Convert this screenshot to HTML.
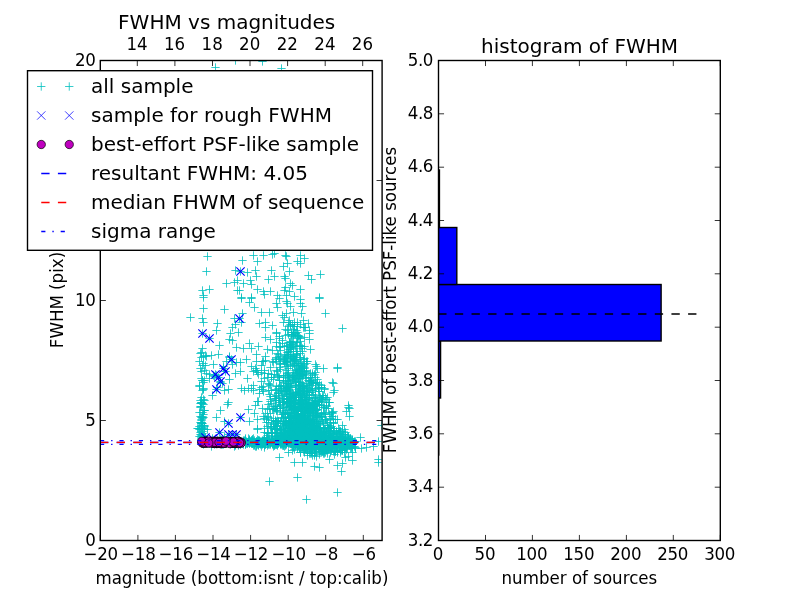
<!DOCTYPE html>
<html><head><meta charset="utf-8"><title>FWHM vs magnitudes</title>
<style>html,body{margin:0;padding:0;background:#fff;overflow:hidden}svg{display:block;will-change:transform}text{font-family:"DejaVu Sans", "Liberation Sans", sans-serif}</style>
</head><body>
<svg width="800" height="600" viewBox="0 0 800 600" >
<rect width="800" height="600" fill="#fff"/>
<defs>
<path id="p" d="M-4.17 0H4.17M0 -4.17V4.17" stroke="#00bfbf" stroke-width="0.8" fill="none"/>
<path id="x" d="M-4.17 -4.17L4.17 4.17M-4.17 4.17L4.17 -4.17" stroke="#0000ff" stroke-width="1.15" fill="none"/>
<path id="xl" d="M-4.17 -4.17L4.17 4.17M-4.17 4.17L4.17 -4.17" stroke="#0000ff" stroke-width="0.75" fill="none"/>
<circle id="o" r="4.17" fill="#bf00bf" stroke="#000" stroke-width="0.7"/>
<clipPath id="c1"><rect x="100.0" y="60.0" width="281.8" height="480.0"/></clipPath>
<clipPath id="c2"><rect x="438.2" y="60.0" width="281.8" height="480.0"/></clipPath>
</defs>
<g clip-path="url(#c1)">
<g>
<use href="#p" x="201.5" y="436.5"/>
<use href="#p" x="202.5" y="380.5"/>
<use href="#p" x="203.5" y="356.5"/>
<use href="#p" x="199.5" y="361.5"/>
<use href="#p" x="204.5" y="410.5"/>
<use href="#p" x="202.5" y="412.5"/>
<use href="#p" x="202.5" y="438.5"/>
<use href="#p" x="203.5" y="417.5"/>
<use href="#p" x="204.5" y="425.5"/>
<use href="#p" x="202.5" y="417.5"/>
<use href="#p" x="202.5" y="425.5"/>
<use href="#p" x="201.5" y="438.5"/>
<use href="#p" x="201.5" y="378.5"/>
<use href="#p" x="202.5" y="418.5"/>
<use href="#p" x="204.5" y="429.5"/>
<use href="#p" x="202.5" y="433.5"/>
<use href="#p" x="202.5" y="439.5"/>
<use href="#p" x="201.5" y="423.5"/>
<use href="#p" x="200.5" y="416.5"/>
<use href="#p" x="201.5" y="422.5"/>
<use href="#p" x="204.5" y="400.5"/>
<use href="#p" x="203.5" y="382.5"/>
<use href="#p" x="201.5" y="397.5"/>
<use href="#p" x="202.5" y="423.5"/>
<use href="#p" x="201.5" y="440.5"/>
<use href="#p" x="201.5" y="419.5"/>
<use href="#p" x="197.5" y="428.5"/>
<use href="#p" x="200.5" y="353.5"/>
<use href="#p" x="203.5" y="428.5"/>
<use href="#p" x="201.5" y="435.5"/>
<use href="#p" x="201.5" y="402.5"/>
<use href="#p" x="200.5" y="406.5"/>
<use href="#p" x="199.5" y="412.5"/>
<use href="#p" x="201.5" y="434.5"/>
<use href="#p" x="201.5" y="423.5"/>
<use href="#p" x="201.5" y="429.5"/>
<use href="#p" x="202.5" y="403.5"/>
<use href="#p" x="199.5" y="429.5"/>
<use href="#p" x="203.5" y="363.5"/>
<use href="#p" x="201.5" y="371.5"/>
<use href="#p" x="200.5" y="400.5"/>
<use href="#p" x="203.5" y="399.5"/>
<use href="#p" x="200.5" y="422.5"/>
<use href="#p" x="205.5" y="355.5"/>
<use href="#p" x="201.5" y="406.5"/>
<use href="#p" x="201.5" y="352.5"/>
<use href="#p" x="204.5" y="426.5"/>
<use href="#p" x="199.5" y="436.5"/>
<use href="#p" x="203.5" y="414.5"/>
<use href="#p" x="202.5" y="348.5"/>
<use href="#p" x="201.5" y="402.5"/>
<use href="#p" x="203.5" y="389.5"/>
<use href="#p" x="202.5" y="431.5"/>
<use href="#p" x="202.5" y="435.5"/>
<use href="#p" x="202.5" y="390.5"/>
<use href="#p" x="202.5" y="380.5"/>
<use href="#p" x="203.5" y="410.5"/>
<use href="#p" x="201.5" y="357.5"/>
<use href="#p" x="201.5" y="420.5"/>
<use href="#p" x="201.5" y="428.5"/>
<use href="#p" x="204.5" y="410.5"/>
<use href="#p" x="201.5" y="439.5"/>
<use href="#p" x="202.5" y="416.5"/>
<use href="#p" x="200.5" y="434.5"/>
<use href="#p" x="200.5" y="403.5"/>
<use href="#p" x="199.5" y="385.5"/>
<use href="#p" x="201.5" y="422.5"/>
<use href="#p" x="203.5" y="404.5"/>
<use href="#p" x="202.5" y="365.5"/>
<use href="#p" x="200.5" y="368.5"/>
<use href="#p" x="198.5" y="428.5"/>
<use href="#p" x="201.5" y="403.5"/>
<use href="#p" x="203.5" y="436.5"/>
<use href="#p" x="201.5" y="437.5"/>
<use href="#p" x="200.5" y="407.5"/>
<use href="#p" x="204.5" y="370.5"/>
<use href="#p" x="201.5" y="423.5"/>
<use href="#p" x="203.5" y="388.5"/>
<use href="#p" x="201.5" y="403.5"/>
<use href="#p" x="205.5" y="365.5"/>
<use href="#p" x="199.5" y="386.5"/>
<use href="#p" x="201.5" y="417.5"/>
<use href="#p" x="204.5" y="380.5"/>
<use href="#p" x="199.5" y="426.5"/>
<use href="#p" x="202.5" y="427.5"/>
<use href="#p" x="200.5" y="432.5"/>
<use href="#p" x="203.5" y="438.5"/>
<use href="#p" x="249.5" y="443.5"/>
<use href="#p" x="312.5" y="446.5"/>
<use href="#p" x="348.5" y="440.5"/>
<use href="#p" x="301.5" y="441.5"/>
<use href="#p" x="245.5" y="444.5"/>
<use href="#p" x="277.5" y="444.5"/>
<use href="#p" x="289.5" y="442.5"/>
<use href="#p" x="322.5" y="441.5"/>
<use href="#p" x="295.5" y="444.5"/>
<use href="#p" x="307.5" y="442.5"/>
<use href="#p" x="342.5" y="449.5"/>
<use href="#p" x="323.5" y="439.5"/>
<use href="#p" x="335.5" y="444.5"/>
<use href="#p" x="277.5" y="442.5"/>
<use href="#p" x="273.5" y="446.5"/>
<use href="#p" x="222.5" y="441.5"/>
<use href="#p" x="343.5" y="440.5"/>
<use href="#p" x="258.5" y="443.5"/>
<use href="#p" x="235.5" y="443.5"/>
<use href="#p" x="241.5" y="442.5"/>
<use href="#p" x="260.5" y="443.5"/>
<use href="#p" x="248.5" y="438.5"/>
<use href="#p" x="306.5" y="444.5"/>
<use href="#p" x="311.5" y="445.5"/>
<use href="#p" x="338.5" y="442.5"/>
<use href="#p" x="293.5" y="442.5"/>
<use href="#p" x="285.5" y="440.5"/>
<use href="#p" x="290.5" y="443.5"/>
<use href="#p" x="280.5" y="442.5"/>
<use href="#p" x="252.5" y="441.5"/>
<use href="#p" x="287.5" y="441.5"/>
<use href="#p" x="341.5" y="442.5"/>
<use href="#p" x="267.5" y="440.5"/>
<use href="#p" x="276.5" y="441.5"/>
<use href="#p" x="253.5" y="443.5"/>
<use href="#p" x="242.5" y="443.5"/>
<use href="#p" x="203.5" y="441.5"/>
<use href="#p" x="307.5" y="441.5"/>
<use href="#p" x="238.5" y="445.5"/>
<use href="#p" x="336.5" y="443.5"/>
<use href="#p" x="351.5" y="446.5"/>
<use href="#p" x="315.5" y="439.5"/>
<use href="#p" x="209.5" y="442.5"/>
<use href="#p" x="342.5" y="445.5"/>
<use href="#p" x="277.5" y="445.5"/>
<use href="#p" x="224.5" y="442.5"/>
<use href="#p" x="326.5" y="443.5"/>
<use href="#p" x="331.5" y="444.5"/>
<use href="#p" x="295.5" y="443.5"/>
<use href="#p" x="314.5" y="441.5"/>
<use href="#p" x="234.5" y="442.5"/>
<use href="#p" x="345.5" y="448.5"/>
<use href="#p" x="245.5" y="441.5"/>
<use href="#p" x="326.5" y="439.5"/>
<use href="#p" x="315.5" y="443.5"/>
<use href="#p" x="273.5" y="442.5"/>
<use href="#p" x="314.5" y="441.5"/>
<use href="#p" x="243.5" y="444.5"/>
<use href="#p" x="231.5" y="443.5"/>
<use href="#p" x="350.5" y="442.5"/>
<use href="#p" x="302.5" y="436.5"/>
<use href="#p" x="293.5" y="446.5"/>
<use href="#p" x="276.5" y="442.5"/>
<use href="#p" x="321.5" y="444.5"/>
<use href="#p" x="314.5" y="436.5"/>
<use href="#p" x="315.5" y="439.5"/>
<use href="#p" x="322.5" y="441.5"/>
<use href="#p" x="262.5" y="443.5"/>
<use href="#p" x="352.5" y="442.5"/>
<use href="#p" x="248.5" y="441.5"/>
<use href="#p" x="302.5" y="444.5"/>
<use href="#p" x="252.5" y="442.5"/>
<use href="#p" x="330.5" y="440.5"/>
<use href="#p" x="340.5" y="440.5"/>
<use href="#p" x="333.5" y="444.5"/>
<use href="#p" x="293.5" y="447.5"/>
<use href="#p" x="317.5" y="444.5"/>
<use href="#p" x="355.5" y="447.5"/>
<use href="#p" x="245.5" y="441.5"/>
<use href="#p" x="313.5" y="443.5"/>
<use href="#p" x="276.5" y="444.5"/>
<use href="#p" x="330.5" y="442.5"/>
<use href="#p" x="330.5" y="445.5"/>
<use href="#p" x="245.5" y="442.5"/>
<use href="#p" x="304.5" y="442.5"/>
<use href="#p" x="221.5" y="442.5"/>
<use href="#p" x="303.5" y="438.5"/>
<use href="#p" x="289.5" y="442.5"/>
<use href="#p" x="231.5" y="442.5"/>
<use href="#p" x="331.5" y="443.5"/>
<use href="#p" x="271.5" y="441.5"/>
<use href="#p" x="213.5" y="442.5"/>
<use href="#p" x="227.5" y="442.5"/>
<use href="#p" x="287.5" y="439.5"/>
<use href="#p" x="343.5" y="439.5"/>
<use href="#p" x="354.5" y="441.5"/>
<use href="#p" x="322.5" y="442.5"/>
<use href="#p" x="252.5" y="439.5"/>
<use href="#p" x="316.5" y="443.5"/>
<use href="#p" x="270.5" y="442.5"/>
<use href="#p" x="291.5" y="443.5"/>
<use href="#p" x="332.5" y="440.5"/>
<use href="#p" x="220.5" y="441.5"/>
<use href="#p" x="215.5" y="441.5"/>
<use href="#p" x="254.5" y="443.5"/>
<use href="#p" x="342.5" y="445.5"/>
<use href="#p" x="289.5" y="442.5"/>
<use href="#p" x="298.5" y="439.5"/>
<use href="#p" x="342.5" y="439.5"/>
<use href="#p" x="298.5" y="444.5"/>
<use href="#p" x="309.5" y="443.5"/>
<use href="#p" x="320.5" y="440.5"/>
<use href="#p" x="331.5" y="444.5"/>
<use href="#p" x="246.5" y="441.5"/>
<use href="#p" x="271.5" y="441.5"/>
<use href="#p" x="316.5" y="442.5"/>
<use href="#p" x="328.5" y="445.5"/>
<use href="#p" x="305.5" y="443.5"/>
<use href="#p" x="264.5" y="440.5"/>
<use href="#p" x="328.5" y="440.5"/>
<use href="#p" x="262.5" y="440.5"/>
<use href="#p" x="293.5" y="444.5"/>
<use href="#p" x="306.5" y="440.5"/>
<use href="#p" x="316.5" y="446.5"/>
<use href="#p" x="278.5" y="441.5"/>
<use href="#p" x="336.5" y="445.5"/>
<use href="#p" x="319.5" y="441.5"/>
<use href="#p" x="352.5" y="440.5"/>
<use href="#p" x="320.5" y="439.5"/>
<use href="#p" x="291.5" y="442.5"/>
<use href="#p" x="238.5" y="442.5"/>
<use href="#p" x="234.5" y="441.5"/>
<use href="#p" x="256.5" y="441.5"/>
<use href="#p" x="247.5" y="443.5"/>
<use href="#p" x="275.5" y="440.5"/>
<use href="#p" x="351.5" y="441.5"/>
<use href="#p" x="311.5" y="440.5"/>
<use href="#p" x="243.5" y="442.5"/>
<use href="#p" x="272.5" y="441.5"/>
<use href="#p" x="236.5" y="443.5"/>
<use href="#p" x="333.5" y="439.5"/>
<use href="#p" x="267.5" y="441.5"/>
<use href="#p" x="291.5" y="442.5"/>
<use href="#p" x="285.5" y="441.5"/>
<use href="#p" x="260.5" y="444.5"/>
<use href="#p" x="259.5" y="441.5"/>
<use href="#p" x="346.5" y="443.5"/>
<use href="#p" x="338.5" y="443.5"/>
<use href="#p" x="259.5" y="443.5"/>
<use href="#p" x="263.5" y="443.5"/>
<use href="#p" x="313.5" y="440.5"/>
<use href="#p" x="317.5" y="442.5"/>
<use href="#p" x="249.5" y="443.5"/>
<use href="#p" x="265.5" y="444.5"/>
<use href="#p" x="352.5" y="443.5"/>
<use href="#p" x="302.5" y="442.5"/>
<use href="#p" x="272.5" y="441.5"/>
<use href="#p" x="283.5" y="445.5"/>
<use href="#p" x="262.5" y="441.5"/>
<use href="#p" x="275.5" y="441.5"/>
<use href="#p" x="319.5" y="444.5"/>
<use href="#p" x="218.5" y="442.5"/>
<use href="#p" x="308.5" y="442.5"/>
<use href="#p" x="316.5" y="439.5"/>
<use href="#p" x="333.5" y="442.5"/>
<use href="#p" x="340.5" y="440.5"/>
<use href="#p" x="332.5" y="439.5"/>
<use href="#p" x="265.5" y="443.5"/>
<use href="#p" x="256.5" y="442.5"/>
<use href="#p" x="349.5" y="445.5"/>
<use href="#p" x="259.5" y="441.5"/>
<use href="#p" x="265.5" y="444.5"/>
<use href="#p" x="317.5" y="442.5"/>
<use href="#p" x="282.5" y="445.5"/>
<use href="#p" x="269.5" y="441.5"/>
<use href="#p" x="305.5" y="443.5"/>
<use href="#p" x="309.5" y="441.5"/>
<use href="#p" x="284.5" y="441.5"/>
<use href="#p" x="264.5" y="440.5"/>
<use href="#p" x="342.5" y="439.5"/>
<use href="#p" x="320.5" y="444.5"/>
<use href="#p" x="318.5" y="442.5"/>
<use href="#p" x="290.5" y="439.5"/>
<use href="#p" x="335.5" y="442.5"/>
<use href="#p" x="254.5" y="440.5"/>
<use href="#p" x="300.5" y="440.5"/>
<use href="#p" x="303.5" y="439.5"/>
<use href="#p" x="234.5" y="446.5"/>
<use href="#p" x="277.5" y="441.5"/>
<use href="#p" x="298.5" y="446.5"/>
<use href="#p" x="329.5" y="445.5"/>
<use href="#p" x="341.5" y="441.5"/>
<use href="#p" x="235.5" y="441.5"/>
<use href="#p" x="295.5" y="442.5"/>
<use href="#p" x="244.5" y="441.5"/>
<use href="#p" x="326.5" y="442.5"/>
<use href="#p" x="280.5" y="443.5"/>
<use href="#p" x="335.5" y="444.5"/>
<use href="#p" x="318.5" y="439.5"/>
<use href="#p" x="248.5" y="442.5"/>
<use href="#p" x="232.5" y="442.5"/>
<use href="#p" x="234.5" y="444.5"/>
<use href="#p" x="280.5" y="442.5"/>
<use href="#p" x="299.5" y="442.5"/>
<use href="#p" x="304.5" y="445.5"/>
<use href="#p" x="300.5" y="439.5"/>
<use href="#p" x="298.5" y="442.5"/>
<use href="#p" x="293.5" y="441.5"/>
<use href="#p" x="318.5" y="442.5"/>
<use href="#p" x="272.5" y="443.5"/>
<use href="#p" x="324.5" y="444.5"/>
<use href="#p" x="310.5" y="446.5"/>
<use href="#p" x="238.5" y="443.5"/>
<use href="#p" x="223.5" y="442.5"/>
<use href="#p" x="267.5" y="443.5"/>
<use href="#p" x="322.5" y="441.5"/>
<use href="#p" x="261.5" y="446.5"/>
<use href="#p" x="245.5" y="443.5"/>
<use href="#p" x="339.5" y="448.5"/>
<use href="#p" x="331.5" y="443.5"/>
<use href="#p" x="265.5" y="441.5"/>
<use href="#p" x="337.5" y="447.5"/>
<use href="#p" x="233.5" y="442.5"/>
<use href="#p" x="238.5" y="441.5"/>
<use href="#p" x="250.5" y="442.5"/>
<use href="#p" x="214.5" y="444.5"/>
<use href="#p" x="332.5" y="443.5"/>
<use href="#p" x="232.5" y="443.5"/>
<use href="#p" x="276.5" y="444.5"/>
<use href="#p" x="312.5" y="442.5"/>
<use href="#p" x="332.5" y="440.5"/>
<use href="#p" x="350.5" y="448.5"/>
<use href="#p" x="253.5" y="445.5"/>
<use href="#p" x="302.5" y="442.5"/>
<use href="#p" x="353.5" y="443.5"/>
<use href="#p" x="282.5" y="441.5"/>
<use href="#p" x="240.5" y="444.5"/>
<use href="#p" x="239.5" y="443.5"/>
<use href="#p" x="262.5" y="444.5"/>
<use href="#p" x="327.5" y="443.5"/>
<use href="#p" x="311.5" y="445.5"/>
<use href="#p" x="315.5" y="441.5"/>
<use href="#p" x="341.5" y="439.5"/>
<use href="#p" x="336.5" y="443.5"/>
<use href="#p" x="254.5" y="442.5"/>
<use href="#p" x="291.5" y="442.5"/>
<use href="#p" x="303.5" y="439.5"/>
<use href="#p" x="268.5" y="443.5"/>
<use href="#p" x="246.5" y="442.5"/>
<use href="#p" x="267.5" y="442.5"/>
<use href="#p" x="223.5" y="443.5"/>
<use href="#p" x="279.5" y="440.5"/>
<use href="#p" x="228.5" y="439.5"/>
<use href="#p" x="328.5" y="441.5"/>
<use href="#p" x="312.5" y="444.5"/>
<use href="#p" x="273.5" y="443.5"/>
<use href="#p" x="278.5" y="443.5"/>
<use href="#p" x="257.5" y="443.5"/>
<use href="#p" x="323.5" y="441.5"/>
<use href="#p" x="337.5" y="444.5"/>
<use href="#p" x="318.5" y="440.5"/>
<use href="#p" x="322.5" y="448.5"/>
<use href="#p" x="350.5" y="440.5"/>
<use href="#p" x="309.5" y="440.5"/>
<use href="#p" x="315.5" y="442.5"/>
<use href="#p" x="270.5" y="443.5"/>
<use href="#p" x="310.5" y="439.5"/>
<use href="#p" x="278.5" y="441.5"/>
<use href="#p" x="298.5" y="445.5"/>
<use href="#p" x="263.5" y="441.5"/>
<use href="#p" x="316.5" y="443.5"/>
<use href="#p" x="342.5" y="442.5"/>
<use href="#p" x="223.5" y="443.5"/>
<use href="#p" x="212.5" y="442.5"/>
<use href="#p" x="331.5" y="447.5"/>
<use href="#p" x="294.5" y="442.5"/>
<use href="#p" x="298.5" y="443.5"/>
<use href="#p" x="287.5" y="441.5"/>
<use href="#p" x="342.5" y="440.5"/>
<use href="#p" x="343.5" y="443.5"/>
<use href="#p" x="339.5" y="445.5"/>
<use href="#p" x="306.5" y="442.5"/>
<use href="#p" x="300.5" y="441.5"/>
<use href="#p" x="286.5" y="444.5"/>
<use href="#p" x="274.5" y="443.5"/>
<use href="#p" x="300.5" y="442.5"/>
<use href="#p" x="321.5" y="441.5"/>
<use href="#p" x="283.5" y="443.5"/>
<use href="#p" x="206.5" y="440.5"/>
<use href="#p" x="286.5" y="439.5"/>
<use href="#p" x="261.5" y="443.5"/>
<use href="#p" x="285.5" y="443.5"/>
<use href="#p" x="308.5" y="443.5"/>
<use href="#p" x="267.5" y="442.5"/>
<use href="#p" x="267.5" y="442.5"/>
<use href="#p" x="311.5" y="446.5"/>
<use href="#p" x="295.5" y="441.5"/>
<use href="#p" x="238.5" y="442.5"/>
<use href="#p" x="286.5" y="443.5"/>
<use href="#p" x="306.5" y="441.5"/>
<use href="#p" x="329.5" y="442.5"/>
<use href="#p" x="347.5" y="445.5"/>
<use href="#p" x="344.5" y="441.5"/>
<use href="#p" x="235.5" y="440.5"/>
<use href="#p" x="307.5" y="442.5"/>
<use href="#p" x="299.5" y="442.5"/>
<use href="#p" x="311.5" y="441.5"/>
<use href="#p" x="272.5" y="443.5"/>
<use href="#p" x="338.5" y="441.5"/>
<use href="#p" x="240.5" y="442.5"/>
<use href="#p" x="215.5" y="441.5"/>
<use href="#p" x="298.5" y="441.5"/>
<use href="#p" x="341.5" y="437.5"/>
<use href="#p" x="284.5" y="441.5"/>
<use href="#p" x="263.5" y="442.5"/>
<use href="#p" x="222.5" y="444.5"/>
<use href="#p" x="344.5" y="442.5"/>
<use href="#p" x="220.5" y="442.5"/>
<use href="#p" x="299.5" y="448.5"/>
<use href="#p" x="321.5" y="446.5"/>
<use href="#p" x="262.5" y="442.5"/>
<use href="#p" x="233.5" y="443.5"/>
<use href="#p" x="309.5" y="441.5"/>
<use href="#p" x="330.5" y="445.5"/>
<use href="#p" x="320.5" y="446.5"/>
<use href="#p" x="276.5" y="441.5"/>
<use href="#p" x="214.5" y="443.5"/>
<use href="#p" x="285.5" y="440.5"/>
<use href="#p" x="258.5" y="440.5"/>
<use href="#p" x="251.5" y="440.5"/>
<use href="#p" x="256.5" y="443.5"/>
<use href="#p" x="275.5" y="441.5"/>
<use href="#p" x="346.5" y="442.5"/>
<use href="#p" x="323.5" y="446.5"/>
<use href="#p" x="291.5" y="440.5"/>
<use href="#p" x="308.5" y="440.5"/>
<use href="#p" x="268.5" y="444.5"/>
<use href="#p" x="238.5" y="441.5"/>
<use href="#p" x="295.5" y="444.5"/>
<use href="#p" x="290.5" y="442.5"/>
<use href="#p" x="341.5" y="446.5"/>
<use href="#p" x="284.5" y="438.5"/>
<use href="#p" x="249.5" y="440.5"/>
<use href="#p" x="232.5" y="441.5"/>
<use href="#p" x="249.5" y="439.5"/>
<use href="#p" x="298.5" y="444.5"/>
<use href="#p" x="264.5" y="447.5"/>
<use href="#p" x="322.5" y="441.5"/>
<use href="#p" x="347.5" y="441.5"/>
<use href="#p" x="326.5" y="442.5"/>
<use href="#p" x="265.5" y="442.5"/>
<use href="#p" x="304.5" y="443.5"/>
<use href="#p" x="283.5" y="439.5"/>
<use href="#p" x="345.5" y="444.5"/>
<use href="#p" x="346.5" y="447.5"/>
<use href="#p" x="249.5" y="442.5"/>
<use href="#p" x="289.5" y="441.5"/>
<use href="#p" x="238.5" y="443.5"/>
<use href="#p" x="293.5" y="441.5"/>
<use href="#p" x="340.5" y="450.5"/>
<use href="#p" x="333.5" y="440.5"/>
<use href="#p" x="282.5" y="443.5"/>
<use href="#p" x="265.5" y="441.5"/>
<use href="#p" x="277.5" y="440.5"/>
<use href="#p" x="263.5" y="440.5"/>
<use href="#p" x="264.5" y="439.5"/>
<use href="#p" x="312.5" y="443.5"/>
<use href="#p" x="253.5" y="438.5"/>
<use href="#p" x="221.5" y="443.5"/>
<use href="#p" x="203.5" y="444.5"/>
<use href="#p" x="308.5" y="441.5"/>
<use href="#p" x="252.5" y="443.5"/>
<use href="#p" x="285.5" y="445.5"/>
<use href="#p" x="317.5" y="441.5"/>
<use href="#p" x="310.5" y="440.5"/>
<use href="#p" x="334.5" y="444.5"/>
<use href="#p" x="334.5" y="444.5"/>
<use href="#p" x="354.5" y="446.5"/>
<use href="#p" x="258.5" y="443.5"/>
<use href="#p" x="261.5" y="442.5"/>
<use href="#p" x="311.5" y="440.5"/>
<use href="#p" x="312.5" y="441.5"/>
<use href="#p" x="317.5" y="443.5"/>
<use href="#p" x="320.5" y="441.5"/>
<use href="#p" x="276.5" y="440.5"/>
<use href="#p" x="350.5" y="438.5"/>
<use href="#p" x="257.5" y="441.5"/>
<use href="#p" x="288.5" y="443.5"/>
<use href="#p" x="267.5" y="442.5"/>
<use href="#p" x="232.5" y="443.5"/>
<use href="#p" x="222.5" y="443.5"/>
<use href="#p" x="351.5" y="442.5"/>
<use href="#p" x="315.5" y="441.5"/>
<use href="#p" x="303.5" y="443.5"/>
<use href="#p" x="329.5" y="441.5"/>
<use href="#p" x="272.5" y="441.5"/>
<use href="#p" x="318.5" y="443.5"/>
<use href="#p" x="272.5" y="441.5"/>
<use href="#p" x="291.5" y="443.5"/>
<use href="#p" x="235.5" y="444.5"/>
<use href="#p" x="325.5" y="436.5"/>
<use href="#p" x="314.5" y="441.5"/>
<use href="#p" x="249.5" y="442.5"/>
<use href="#p" x="230.5" y="444.5"/>
<use href="#p" x="298.5" y="442.5"/>
<use href="#p" x="278.5" y="442.5"/>
<use href="#p" x="209.5" y="443.5"/>
<use href="#p" x="330.5" y="436.5"/>
<use href="#p" x="272.5" y="441.5"/>
<use href="#p" x="228.5" y="442.5"/>
<use href="#p" x="274.5" y="445.5"/>
<use href="#p" x="256.5" y="442.5"/>
<use href="#p" x="285.5" y="444.5"/>
<use href="#p" x="332.5" y="441.5"/>
<use href="#p" x="322.5" y="441.5"/>
<use href="#p" x="280.5" y="441.5"/>
<use href="#p" x="261.5" y="441.5"/>
<use href="#p" x="250.5" y="441.5"/>
<use href="#p" x="323.5" y="440.5"/>
<use href="#p" x="310.5" y="441.5"/>
<use href="#p" x="276.5" y="438.5"/>
<use href="#p" x="274.5" y="445.5"/>
<use href="#p" x="314.5" y="441.5"/>
<use href="#p" x="284.5" y="443.5"/>
<use href="#p" x="246.5" y="443.5"/>
<use href="#p" x="277.5" y="440.5"/>
<use href="#p" x="292.5" y="441.5"/>
<use href="#p" x="330.5" y="447.5"/>
<use href="#p" x="238.5" y="443.5"/>
<use href="#p" x="245.5" y="439.5"/>
<use href="#p" x="249.5" y="440.5"/>
<use href="#p" x="243.5" y="441.5"/>
<use href="#p" x="256.5" y="441.5"/>
<use href="#p" x="315.5" y="446.5"/>
<use href="#p" x="316.5" y="443.5"/>
<use href="#p" x="315.5" y="441.5"/>
<use href="#p" x="332.5" y="441.5"/>
<use href="#p" x="297.5" y="441.5"/>
<use href="#p" x="239.5" y="443.5"/>
<use href="#p" x="272.5" y="439.5"/>
<use href="#p" x="280.5" y="443.5"/>
<use href="#p" x="325.5" y="443.5"/>
<use href="#p" x="233.5" y="443.5"/>
<use href="#p" x="297.5" y="442.5"/>
<use href="#p" x="223.5" y="444.5"/>
<use href="#p" x="217.5" y="441.5"/>
<use href="#p" x="253.5" y="441.5"/>
<use href="#p" x="221.5" y="443.5"/>
<use href="#p" x="298.5" y="443.5"/>
<use href="#p" x="218.5" y="441.5"/>
<use href="#p" x="255.5" y="446.5"/>
<use href="#p" x="338.5" y="439.5"/>
<use href="#p" x="323.5" y="442.5"/>
<use href="#p" x="289.5" y="440.5"/>
<use href="#p" x="264.5" y="445.5"/>
<use href="#p" x="334.5" y="441.5"/>
<use href="#p" x="271.5" y="441.5"/>
<use href="#p" x="224.5" y="442.5"/>
<use href="#p" x="222.5" y="441.5"/>
<use href="#p" x="278.5" y="443.5"/>
<use href="#p" x="320.5" y="441.5"/>
<use href="#p" x="297.5" y="443.5"/>
<use href="#p" x="348.5" y="444.5"/>
<use href="#p" x="273.5" y="442.5"/>
<use href="#p" x="237.5" y="442.5"/>
<use href="#p" x="294.5" y="444.5"/>
<use href="#p" x="298.5" y="441.5"/>
<use href="#p" x="305.5" y="441.5"/>
<use href="#p" x="286.5" y="441.5"/>
<use href="#p" x="306.5" y="443.5"/>
<use href="#p" x="252.5" y="443.5"/>
<use href="#p" x="281.5" y="444.5"/>
<use href="#p" x="314.5" y="447.5"/>
<use href="#p" x="256.5" y="446.5"/>
<use href="#p" x="303.5" y="446.5"/>
<use href="#p" x="254.5" y="444.5"/>
<use href="#p" x="298.5" y="439.5"/>
<use href="#p" x="317.5" y="439.5"/>
<use href="#p" x="301.5" y="441.5"/>
<use href="#p" x="233.5" y="441.5"/>
<use href="#p" x="239.5" y="440.5"/>
<use href="#p" x="259.5" y="441.5"/>
<use href="#p" x="331.5" y="440.5"/>
<use href="#p" x="258.5" y="441.5"/>
<use href="#p" x="291.5" y="443.5"/>
<use href="#p" x="329.5" y="435.5"/>
<use href="#p" x="312.5" y="442.5"/>
<use href="#p" x="307.5" y="441.5"/>
<use href="#p" x="277.5" y="443.5"/>
<use href="#p" x="339.5" y="439.5"/>
<use href="#p" x="266.5" y="443.5"/>
<use href="#p" x="275.5" y="441.5"/>
<use href="#p" x="344.5" y="439.5"/>
<use href="#p" x="347.5" y="441.5"/>
<use href="#p" x="346.5" y="444.5"/>
<use href="#p" x="329.5" y="443.5"/>
<use href="#p" x="236.5" y="442.5"/>
<use href="#p" x="335.5" y="436.5"/>
<use href="#p" x="274.5" y="443.5"/>
<use href="#p" x="332.5" y="441.5"/>
<use href="#p" x="327.5" y="442.5"/>
<use href="#p" x="215.5" y="442.5"/>
<use href="#p" x="355.5" y="441.5"/>
<use href="#p" x="293.5" y="442.5"/>
<use href="#p" x="338.5" y="442.5"/>
<use href="#p" x="331.5" y="441.5"/>
<use href="#p" x="320.5" y="442.5"/>
<use href="#p" x="254.5" y="445.5"/>
<use href="#p" x="218.5" y="441.5"/>
<use href="#p" x="220.5" y="439.5"/>
<use href="#p" x="320.5" y="441.5"/>
<use href="#p" x="308.5" y="441.5"/>
<use href="#p" x="291.5" y="443.5"/>
<use href="#p" x="325.5" y="442.5"/>
<use href="#p" x="303.5" y="443.5"/>
<use href="#p" x="309.5" y="443.5"/>
<use href="#p" x="329.5" y="439.5"/>
<use href="#p" x="275.5" y="441.5"/>
<use href="#p" x="292.5" y="441.5"/>
<use href="#p" x="342.5" y="443.5"/>
<use href="#p" x="310.5" y="440.5"/>
<use href="#p" x="232.5" y="441.5"/>
<use href="#p" x="284.5" y="441.5"/>
<use href="#p" x="306.5" y="440.5"/>
<use href="#p" x="244.5" y="441.5"/>
<use href="#p" x="282.5" y="442.5"/>
<use href="#p" x="346.5" y="445.5"/>
<use href="#p" x="340.5" y="438.5"/>
<use href="#p" x="293.5" y="443.5"/>
<use href="#p" x="318.5" y="438.5"/>
<use href="#p" x="239.5" y="442.5"/>
<use href="#p" x="270.5" y="444.5"/>
<use href="#p" x="293.5" y="443.5"/>
<use href="#p" x="284.5" y="443.5"/>
<use href="#p" x="354.5" y="442.5"/>
<use href="#p" x="344.5" y="442.5"/>
<use href="#p" x="306.5" y="439.5"/>
<use href="#p" x="287.5" y="440.5"/>
<use href="#p" x="291.5" y="440.5"/>
<use href="#p" x="279.5" y="442.5"/>
<use href="#p" x="249.5" y="442.5"/>
<use href="#p" x="230.5" y="442.5"/>
<use href="#p" x="291.5" y="442.5"/>
<use href="#p" x="241.5" y="443.5"/>
<use href="#p" x="352.5" y="439.5"/>
<use href="#p" x="294.5" y="442.5"/>
<use href="#p" x="243.5" y="440.5"/>
<use href="#p" x="234.5" y="443.5"/>
<use href="#p" x="330.5" y="439.5"/>
<use href="#p" x="339.5" y="444.5"/>
<use href="#p" x="306.5" y="441.5"/>
<use href="#p" x="351.5" y="448.5"/>
<use href="#p" x="221.5" y="444.5"/>
<use href="#p" x="269.5" y="444.5"/>
<use href="#p" x="343.5" y="441.5"/>
<use href="#p" x="313.5" y="441.5"/>
<use href="#p" x="235.5" y="441.5"/>
<use href="#p" x="283.5" y="441.5"/>
<use href="#p" x="319.5" y="438.5"/>
<use href="#p" x="303.5" y="437.5"/>
<use href="#p" x="297.5" y="443.5"/>
<use href="#p" x="344.5" y="440.5"/>
<use href="#p" x="260.5" y="442.5"/>
<use href="#p" x="334.5" y="441.5"/>
<use href="#p" x="322.5" y="438.5"/>
<use href="#p" x="344.5" y="447.5"/>
<use href="#p" x="315.5" y="439.5"/>
<use href="#p" x="312.5" y="441.5"/>
<use href="#p" x="225.5" y="442.5"/>
<use href="#p" x="243.5" y="442.5"/>
<use href="#p" x="351.5" y="443.5"/>
<use href="#p" x="320.5" y="441.5"/>
<use href="#p" x="313.5" y="440.5"/>
<use href="#p" x="321.5" y="442.5"/>
<use href="#p" x="344.5" y="444.5"/>
<use href="#p" x="268.5" y="440.5"/>
<use href="#p" x="228.5" y="442.5"/>
<use href="#p" x="262.5" y="441.5"/>
<use href="#p" x="307.5" y="438.5"/>
<use href="#p" x="309.5" y="441.5"/>
<use href="#p" x="232.5" y="441.5"/>
<use href="#p" x="307.5" y="444.5"/>
<use href="#p" x="283.5" y="445.5"/>
<use href="#p" x="250.5" y="442.5"/>
<use href="#p" x="259.5" y="443.5"/>
<use href="#p" x="321.5" y="442.5"/>
<use href="#p" x="275.5" y="444.5"/>
<use href="#p" x="320.5" y="446.5"/>
<use href="#p" x="260.5" y="443.5"/>
<use href="#p" x="213.5" y="441.5"/>
<use href="#p" x="279.5" y="441.5"/>
<use href="#p" x="292.5" y="445.5"/>
<use href="#p" x="284.5" y="446.5"/>
<use href="#p" x="273.5" y="442.5"/>
<use href="#p" x="306.5" y="444.5"/>
<use href="#p" x="259.5" y="442.5"/>
<use href="#p" x="345.5" y="444.5"/>
<use href="#p" x="311.5" y="437.5"/>
<use href="#p" x="273.5" y="444.5"/>
<use href="#p" x="318.5" y="444.5"/>
<use href="#p" x="271.5" y="440.5"/>
<use href="#p" x="229.5" y="441.5"/>
<use href="#p" x="295.5" y="442.5"/>
<use href="#p" x="305.5" y="448.5"/>
<use href="#p" x="216.5" y="441.5"/>
<use href="#p" x="245.5" y="438.5"/>
<use href="#p" x="272.5" y="442.5"/>
<use href="#p" x="288.5" y="440.5"/>
<use href="#p" x="286.5" y="441.5"/>
<use href="#p" x="222.5" y="441.5"/>
<use href="#p" x="247.5" y="443.5"/>
<use href="#p" x="296.5" y="441.5"/>
<use href="#p" x="266.5" y="440.5"/>
<use href="#p" x="322.5" y="443.5"/>
<use href="#p" x="242.5" y="443.5"/>
<use href="#p" x="291.5" y="443.5"/>
<use href="#p" x="286.5" y="443.5"/>
<use href="#p" x="238.5" y="443.5"/>
<use href="#p" x="251.5" y="442.5"/>
<use href="#p" x="295.5" y="445.5"/>
<use href="#p" x="324.5" y="442.5"/>
<use href="#p" x="225.5" y="442.5"/>
<use href="#p" x="343.5" y="443.5"/>
<use href="#p" x="256.5" y="445.5"/>
<use href="#p" x="302.5" y="446.5"/>
<use href="#p" x="254.5" y="443.5"/>
<use href="#p" x="351.5" y="444.5"/>
<use href="#p" x="314.5" y="441.5"/>
<use href="#p" x="272.5" y="442.5"/>
<use href="#p" x="280.5" y="441.5"/>
<use href="#p" x="245.5" y="441.5"/>
<use href="#p" x="299.5" y="444.5"/>
<use href="#p" x="252.5" y="441.5"/>
<use href="#p" x="347.5" y="448.5"/>
<use href="#p" x="315.5" y="437.5"/>
<use href="#p" x="330.5" y="444.5"/>
<use href="#p" x="323.5" y="437.5"/>
<use href="#p" x="233.5" y="443.5"/>
<use href="#p" x="291.5" y="444.5"/>
<use href="#p" x="251.5" y="443.5"/>
<use href="#p" x="249.5" y="442.5"/>
<use href="#p" x="321.5" y="441.5"/>
<use href="#p" x="260.5" y="442.5"/>
<use href="#p" x="255.5" y="442.5"/>
<use href="#p" x="252.5" y="443.5"/>
<use href="#p" x="293.5" y="442.5"/>
<use href="#p" x="295.5" y="443.5"/>
<use href="#p" x="340.5" y="445.5"/>
<use href="#p" x="223.5" y="443.5"/>
<use href="#p" x="342.5" y="444.5"/>
<use href="#p" x="312.5" y="441.5"/>
<use href="#p" x="238.5" y="442.5"/>
<use href="#p" x="211.5" y="446.5"/>
<use href="#p" x="275.5" y="439.5"/>
<use href="#p" x="313.5" y="436.5"/>
<use href="#p" x="258.5" y="443.5"/>
<use href="#p" x="217.5" y="442.5"/>
<use href="#p" x="249.5" y="440.5"/>
<use href="#p" x="229.5" y="442.5"/>
<use href="#p" x="245.5" y="443.5"/>
<use href="#p" x="345.5" y="440.5"/>
<use href="#p" x="226.5" y="443.5"/>
<use href="#p" x="257.5" y="444.5"/>
<use href="#p" x="278.5" y="441.5"/>
<use href="#p" x="300.5" y="442.5"/>
<use href="#p" x="300.5" y="445.5"/>
<use href="#p" x="335.5" y="441.5"/>
<use href="#p" x="217.5" y="440.5"/>
<use href="#p" x="273.5" y="441.5"/>
<use href="#p" x="210.5" y="442.5"/>
<use href="#p" x="303.5" y="444.5"/>
<use href="#p" x="276.5" y="440.5"/>
<use href="#p" x="213.5" y="441.5"/>
<use href="#p" x="331.5" y="444.5"/>
<use href="#p" x="280.5" y="444.5"/>
<use href="#p" x="313.5" y="442.5"/>
<use href="#p" x="263.5" y="442.5"/>
<use href="#p" x="210.5" y="440.5"/>
<use href="#p" x="337.5" y="437.5"/>
<use href="#p" x="349.5" y="444.5"/>
<use href="#p" x="206.5" y="443.5"/>
<use href="#p" x="282.5" y="443.5"/>
<use href="#p" x="245.5" y="444.5"/>
<use href="#p" x="248.5" y="442.5"/>
<use href="#p" x="275.5" y="444.5"/>
<use href="#p" x="263.5" y="442.5"/>
<use href="#p" x="329.5" y="435.5"/>
<use href="#p" x="267.5" y="443.5"/>
<use href="#p" x="291.5" y="442.5"/>
<use href="#p" x="326.5" y="442.5"/>
<use href="#p" x="288.5" y="443.5"/>
<use href="#p" x="327.5" y="442.5"/>
<use href="#p" x="336.5" y="442.5"/>
<use href="#p" x="264.5" y="440.5"/>
<use href="#p" x="317.5" y="446.5"/>
<use href="#p" x="328.5" y="441.5"/>
<use href="#p" x="281.5" y="440.5"/>
<use href="#p" x="310.5" y="445.5"/>
<use href="#p" x="304.5" y="444.5"/>
<use href="#p" x="345.5" y="439.5"/>
<use href="#p" x="308.5" y="444.5"/>
<use href="#p" x="329.5" y="446.5"/>
<use href="#p" x="349.5" y="442.5"/>
<use href="#p" x="239.5" y="440.5"/>
<use href="#p" x="251.5" y="440.5"/>
<use href="#p" x="305.5" y="442.5"/>
<use href="#p" x="332.5" y="439.5"/>
<use href="#p" x="322.5" y="447.5"/>
<use href="#p" x="338.5" y="440.5"/>
<use href="#p" x="320.5" y="444.5"/>
<use href="#p" x="235.5" y="445.5"/>
<use href="#p" x="352.5" y="442.5"/>
<use href="#p" x="259.5" y="440.5"/>
<use href="#p" x="239.5" y="442.5"/>
<use href="#p" x="323.5" y="442.5"/>
<use href="#p" x="324.5" y="440.5"/>
<use href="#p" x="312.5" y="442.5"/>
<use href="#p" x="312.5" y="443.5"/>
<use href="#p" x="277.5" y="440.5"/>
<use href="#p" x="283.5" y="442.5"/>
<use href="#p" x="260.5" y="441.5"/>
<use href="#p" x="301.5" y="445.5"/>
<use href="#p" x="331.5" y="439.5"/>
<use href="#p" x="274.5" y="443.5"/>
<use href="#p" x="235.5" y="443.5"/>
<use href="#p" x="312.5" y="444.5"/>
<use href="#p" x="295.5" y="440.5"/>
<use href="#p" x="272.5" y="443.5"/>
<use href="#p" x="298.5" y="445.5"/>
<use href="#p" x="297.5" y="443.5"/>
<use href="#p" x="265.5" y="443.5"/>
<use href="#p" x="323.5" y="445.5"/>
<use href="#p" x="262.5" y="441.5"/>
<use href="#p" x="314.5" y="443.5"/>
<use href="#p" x="317.5" y="442.5"/>
<use href="#p" x="303.5" y="442.5"/>
<use href="#p" x="294.5" y="442.5"/>
<use href="#p" x="258.5" y="444.5"/>
<use href="#p" x="319.5" y="440.5"/>
<use href="#p" x="312.5" y="442.5"/>
<use href="#p" x="333.5" y="442.5"/>
<use href="#p" x="324.5" y="440.5"/>
<use href="#p" x="245.5" y="443.5"/>
<use href="#p" x="258.5" y="444.5"/>
<use href="#p" x="323.5" y="445.5"/>
<use href="#p" x="312.5" y="441.5"/>
<use href="#p" x="317.5" y="443.5"/>
<use href="#p" x="292.5" y="441.5"/>
<use href="#p" x="235.5" y="442.5"/>
<use href="#p" x="256.5" y="442.5"/>
<use href="#p" x="259.5" y="443.5"/>
<use href="#p" x="326.5" y="442.5"/>
<use href="#p" x="345.5" y="444.5"/>
<use href="#p" x="258.5" y="440.5"/>
<use href="#p" x="271.5" y="439.5"/>
<use href="#p" x="311.5" y="442.5"/>
<use href="#p" x="229.5" y="442.5"/>
<use href="#p" x="243.5" y="443.5"/>
<use href="#p" x="262.5" y="443.5"/>
<use href="#p" x="332.5" y="446.5"/>
<use href="#p" x="274.5" y="443.5"/>
<use href="#p" x="333.5" y="442.5"/>
<use href="#p" x="347.5" y="442.5"/>
<use href="#p" x="252.5" y="443.5"/>
<use href="#p" x="330.5" y="444.5"/>
<use href="#p" x="325.5" y="444.5"/>
<use href="#p" x="230.5" y="443.5"/>
<use href="#p" x="334.5" y="444.5"/>
<use href="#p" x="328.5" y="442.5"/>
<use href="#p" x="308.5" y="442.5"/>
<use href="#p" x="278.5" y="440.5"/>
<use href="#p" x="207.5" y="443.5"/>
<use href="#p" x="320.5" y="442.5"/>
<use href="#p" x="258.5" y="445.5"/>
<use href="#p" x="280.5" y="441.5"/>
<use href="#p" x="337.5" y="439.5"/>
<use href="#p" x="251.5" y="443.5"/>
<use href="#p" x="310.5" y="445.5"/>
<use href="#p" x="250.5" y="441.5"/>
<use href="#p" x="214.5" y="442.5"/>
<use href="#p" x="341.5" y="443.5"/>
<use href="#p" x="304.5" y="442.5"/>
<use href="#p" x="297.5" y="442.5"/>
<use href="#p" x="324.5" y="440.5"/>
<use href="#p" x="342.5" y="438.5"/>
<use href="#p" x="244.5" y="440.5"/>
<use href="#p" x="264.5" y="443.5"/>
<use href="#p" x="327.5" y="444.5"/>
<use href="#p" x="302.5" y="440.5"/>
<use href="#p" x="312.5" y="445.5"/>
<use href="#p" x="225.5" y="442.5"/>
<use href="#p" x="281.5" y="443.5"/>
<use href="#p" x="211.5" y="441.5"/>
<use href="#p" x="345.5" y="439.5"/>
<use href="#p" x="313.5" y="444.5"/>
<use href="#p" x="275.5" y="442.5"/>
<use href="#p" x="328.5" y="438.5"/>
<use href="#p" x="314.5" y="444.5"/>
<use href="#p" x="327.5" y="445.5"/>
<use href="#p" x="335.5" y="444.5"/>
<use href="#p" x="240.5" y="441.5"/>
<use href="#p" x="334.5" y="440.5"/>
<use href="#p" x="295.5" y="441.5"/>
<use href="#p" x="296.5" y="442.5"/>
<use href="#p" x="297.5" y="447.5"/>
<use href="#p" x="281.5" y="442.5"/>
<use href="#p" x="343.5" y="444.5"/>
<use href="#p" x="316.5" y="438.5"/>
<use href="#p" x="339.5" y="438.5"/>
<use href="#p" x="287.5" y="441.5"/>
<use href="#p" x="296.5" y="442.5"/>
<use href="#p" x="350.5" y="441.5"/>
<use href="#p" x="301.5" y="438.5"/>
<use href="#p" x="294.5" y="440.5"/>
<use href="#p" x="263.5" y="441.5"/>
<use href="#p" x="214.5" y="440.5"/>
<use href="#p" x="302.5" y="441.5"/>
<use href="#p" x="326.5" y="444.5"/>
<use href="#p" x="313.5" y="440.5"/>
<use href="#p" x="241.5" y="441.5"/>
<use href="#p" x="224.5" y="443.5"/>
<use href="#p" x="346.5" y="441.5"/>
<use href="#p" x="267.5" y="445.5"/>
<use href="#p" x="280.5" y="443.5"/>
<use href="#p" x="295.5" y="442.5"/>
<use href="#p" x="296.5" y="443.5"/>
<use href="#p" x="340.5" y="449.5"/>
<use href="#p" x="278.5" y="441.5"/>
<use href="#p" x="348.5" y="442.5"/>
<use href="#p" x="308.5" y="444.5"/>
<use href="#p" x="305.5" y="444.5"/>
<use href="#p" x="268.5" y="443.5"/>
<use href="#p" x="261.5" y="442.5"/>
<use href="#p" x="240.5" y="444.5"/>
<use href="#p" x="315.5" y="438.5"/>
<use href="#p" x="293.5" y="442.5"/>
<use href="#p" x="254.5" y="442.5"/>
<use href="#p" x="312.5" y="444.5"/>
<use href="#p" x="338.5" y="439.5"/>
<use href="#p" x="292.5" y="441.5"/>
<use href="#p" x="272.5" y="444.5"/>
<use href="#p" x="235.5" y="440.5"/>
<use href="#p" x="340.5" y="443.5"/>
<use href="#p" x="315.5" y="438.5"/>
<use href="#p" x="336.5" y="446.5"/>
<use href="#p" x="320.5" y="446.5"/>
<use href="#p" x="324.5" y="446.5"/>
<use href="#p" x="328.5" y="448.5"/>
<use href="#p" x="313.5" y="446.5"/>
<use href="#p" x="302.5" y="448.5"/>
<use href="#p" x="312.5" y="449.5"/>
<use href="#p" x="300.5" y="452.5"/>
<use href="#p" x="352.5" y="452.5"/>
<use href="#p" x="325.5" y="452.5"/>
<use href="#p" x="331.5" y="446.5"/>
<use href="#p" x="319.5" y="449.5"/>
<use href="#p" x="304.5" y="450.5"/>
<use href="#p" x="315.5" y="452.5"/>
<use href="#p" x="330.5" y="452.5"/>
<use href="#p" x="342.5" y="450.5"/>
<use href="#p" x="331.5" y="448.5"/>
<use href="#p" x="311.5" y="446.5"/>
<use href="#p" x="313.5" y="447.5"/>
<use href="#p" x="334.5" y="450.5"/>
<use href="#p" x="324.5" y="448.5"/>
<use href="#p" x="344.5" y="446.5"/>
<use href="#p" x="334.5" y="447.5"/>
<use href="#p" x="314.5" y="453.5"/>
<use href="#p" x="311.5" y="453.5"/>
<use href="#p" x="321.5" y="452.5"/>
<use href="#p" x="304.5" y="452.5"/>
<use href="#p" x="336.5" y="447.5"/>
<use href="#p" x="329.5" y="459.5"/>
<use href="#p" x="314.5" y="455.5"/>
<use href="#p" x="301.5" y="448.5"/>
<use href="#p" x="321.5" y="447.5"/>
<use href="#p" x="323.5" y="448.5"/>
<use href="#p" x="332.5" y="446.5"/>
<use href="#p" x="337.5" y="452.5"/>
<use href="#p" x="319.5" y="451.5"/>
<use href="#p" x="322.5" y="451.5"/>
<use href="#p" x="310.5" y="447.5"/>
<use href="#p" x="342.5" y="463.5"/>
<use href="#p" x="323.5" y="451.5"/>
<use href="#p" x="316.5" y="456.5"/>
<use href="#p" x="328.5" y="448.5"/>
<use href="#p" x="327.5" y="453.5"/>
<use href="#p" x="294.5" y="449.5"/>
<use href="#p" x="292.5" y="450.5"/>
<use href="#p" x="326.5" y="448.5"/>
<use href="#p" x="306.5" y="449.5"/>
<use href="#p" x="328.5" y="446.5"/>
<use href="#p" x="313.5" y="446.5"/>
<use href="#p" x="320.5" y="451.5"/>
<use href="#p" x="336.5" y="447.5"/>
<use href="#p" x="316.5" y="449.5"/>
<use href="#p" x="335.5" y="451.5"/>
<use href="#p" x="318.5" y="449.5"/>
<use href="#p" x="305.5" y="449.5"/>
<use href="#p" x="324.5" y="449.5"/>
<use href="#p" x="312.5" y="455.5"/>
<use href="#p" x="314.5" y="449.5"/>
<use href="#p" x="311.5" y="447.5"/>
<use href="#p" x="324.5" y="451.5"/>
<use href="#p" x="326.5" y="446.5"/>
<use href="#p" x="352.5" y="447.5"/>
<use href="#p" x="320.5" y="446.5"/>
<use href="#p" x="361.5" y="448.5"/>
<use href="#p" x="307.5" y="449.5"/>
<use href="#p" x="288.5" y="452.5"/>
<use href="#p" x="346.5" y="449.5"/>
<use href="#p" x="340.5" y="452.5"/>
<use href="#p" x="337.5" y="451.5"/>
<use href="#p" x="334.5" y="454.5"/>
<use href="#p" x="329.5" y="448.5"/>
<use href="#p" x="337.5" y="447.5"/>
<use href="#p" x="332.5" y="447.5"/>
<use href="#p" x="311.5" y="452.5"/>
<use href="#p" x="321.5" y="449.5"/>
<use href="#p" x="321.5" y="449.5"/>
<use href="#p" x="344.5" y="452.5"/>
<use href="#p" x="327.5" y="446.5"/>
<use href="#p" x="333.5" y="451.5"/>
<use href="#p" x="329.5" y="447.5"/>
<use href="#p" x="330.5" y="446.5"/>
<use href="#p" x="307.5" y="449.5"/>
<use href="#p" x="331.5" y="449.5"/>
<use href="#p" x="326.5" y="450.5"/>
<use href="#p" x="345.5" y="447.5"/>
<use href="#p" x="341.5" y="450.5"/>
<use href="#p" x="328.5" y="448.5"/>
<use href="#p" x="318.5" y="447.5"/>
<use href="#p" x="325.5" y="447.5"/>
<use href="#p" x="308.5" y="447.5"/>
<use href="#p" x="300.5" y="452.5"/>
<use href="#p" x="304.5" y="448.5"/>
<use href="#p" x="319.5" y="454.5"/>
<use href="#p" x="325.5" y="446.5"/>
<use href="#p" x="315.5" y="448.5"/>
<use href="#p" x="335.5" y="451.5"/>
<use href="#p" x="309.5" y="446.5"/>
<use href="#p" x="326.5" y="449.5"/>
<use href="#p" x="310.5" y="446.5"/>
<use href="#p" x="314.5" y="447.5"/>
<use href="#p" x="342.5" y="450.5"/>
<use href="#p" x="310.5" y="447.5"/>
<use href="#p" x="311.5" y="448.5"/>
<use href="#p" x="302.5" y="462.5"/>
<use href="#p" x="318.5" y="446.5"/>
<use href="#p" x="324.5" y="453.5"/>
<use href="#p" x="312.5" y="451.5"/>
<use href="#p" x="303.5" y="450.5"/>
<use href="#p" x="316.5" y="449.5"/>
<use href="#p" x="310.5" y="453.5"/>
<use href="#p" x="324.5" y="447.5"/>
<use href="#p" x="307.5" y="449.5"/>
<use href="#p" x="309.5" y="453.5"/>
<use href="#p" x="297.5" y="447.5"/>
<use href="#p" x="321.5" y="447.5"/>
<use href="#p" x="314.5" y="449.5"/>
<use href="#p" x="309.5" y="449.5"/>
<use href="#p" x="322.5" y="451.5"/>
<use href="#p" x="327.5" y="446.5"/>
<use href="#p" x="348.5" y="456.5"/>
<use href="#p" x="307.5" y="455.5"/>
<use href="#p" x="312.5" y="448.5"/>
<use href="#p" x="307.5" y="451.5"/>
<use href="#p" x="340.5" y="448.5"/>
<use href="#p" x="299.5" y="447.5"/>
<use href="#p" x="332.5" y="448.5"/>
<use href="#p" x="331.5" y="446.5"/>
<use href="#p" x="323.5" y="453.5"/>
<use href="#p" x="310.5" y="449.5"/>
<use href="#p" x="315.5" y="448.5"/>
<use href="#p" x="292.5" y="392.5"/>
<use href="#p" x="316.5" y="440.5"/>
<use href="#p" x="314.5" y="433.5"/>
<use href="#p" x="305.5" y="403.5"/>
<use href="#p" x="308.5" y="420.5"/>
<use href="#p" x="312.5" y="408.5"/>
<use href="#p" x="296.5" y="435.5"/>
<use href="#p" x="312.5" y="437.5"/>
<use href="#p" x="298.5" y="422.5"/>
<use href="#p" x="289.5" y="420.5"/>
<use href="#p" x="295.5" y="359.5"/>
<use href="#p" x="300.5" y="431.5"/>
<use href="#p" x="312.5" y="407.5"/>
<use href="#p" x="274.5" y="437.5"/>
<use href="#p" x="314.5" y="408.5"/>
<use href="#p" x="285.5" y="439.5"/>
<use href="#p" x="309.5" y="381.5"/>
<use href="#p" x="289.5" y="430.5"/>
<use href="#p" x="293.5" y="341.5"/>
<use href="#p" x="293.5" y="423.5"/>
<use href="#p" x="291.5" y="437.5"/>
<use href="#p" x="292.5" y="376.5"/>
<use href="#p" x="276.5" y="370.5"/>
<use href="#p" x="305.5" y="435.5"/>
<use href="#p" x="304.5" y="415.5"/>
<use href="#p" x="299.5" y="419.5"/>
<use href="#p" x="297.5" y="411.5"/>
<use href="#p" x="285.5" y="335.5"/>
<use href="#p" x="300.5" y="407.5"/>
<use href="#p" x="306.5" y="438.5"/>
<use href="#p" x="287.5" y="376.5"/>
<use href="#p" x="273.5" y="423.5"/>
<use href="#p" x="302.5" y="428.5"/>
<use href="#p" x="322.5" y="438.5"/>
<use href="#p" x="309.5" y="412.5"/>
<use href="#p" x="286.5" y="394.5"/>
<use href="#p" x="299.5" y="373.5"/>
<use href="#p" x="303.5" y="385.5"/>
<use href="#p" x="298.5" y="363.5"/>
<use href="#p" x="300.5" y="430.5"/>
<use href="#p" x="311.5" y="423.5"/>
<use href="#p" x="287.5" y="364.5"/>
<use href="#p" x="277.5" y="429.5"/>
<use href="#p" x="283.5" y="423.5"/>
<use href="#p" x="298.5" y="415.5"/>
<use href="#p" x="300.5" y="388.5"/>
<use href="#p" x="320.5" y="433.5"/>
<use href="#p" x="297.5" y="418.5"/>
<use href="#p" x="299.5" y="423.5"/>
<use href="#p" x="288.5" y="380.5"/>
<use href="#p" x="290.5" y="324.5"/>
<use href="#p" x="289.5" y="389.5"/>
<use href="#p" x="310.5" y="428.5"/>
<use href="#p" x="309.5" y="392.5"/>
<use href="#p" x="286.5" y="424.5"/>
<use href="#p" x="297.5" y="326.5"/>
<use href="#p" x="303.5" y="375.5"/>
<use href="#p" x="305.5" y="439.5"/>
<use href="#p" x="284.5" y="359.5"/>
<use href="#p" x="285.5" y="366.5"/>
<use href="#p" x="301.5" y="436.5"/>
<use href="#p" x="295.5" y="359.5"/>
<use href="#p" x="314.5" y="398.5"/>
<use href="#p" x="310.5" y="431.5"/>
<use href="#p" x="315.5" y="432.5"/>
<use href="#p" x="299.5" y="437.5"/>
<use href="#p" x="313.5" y="430.5"/>
<use href="#p" x="282.5" y="343.5"/>
<use href="#p" x="283.5" y="414.5"/>
<use href="#p" x="315.5" y="437.5"/>
<use href="#p" x="287.5" y="391.5"/>
<use href="#p" x="282.5" y="340.5"/>
<use href="#p" x="301.5" y="411.5"/>
<use href="#p" x="282.5" y="440.5"/>
<use href="#p" x="287.5" y="345.5"/>
<use href="#p" x="285.5" y="439.5"/>
<use href="#p" x="300.5" y="430.5"/>
<use href="#p" x="304.5" y="393.5"/>
<use href="#p" x="304.5" y="411.5"/>
<use href="#p" x="294.5" y="402.5"/>
<use href="#p" x="299.5" y="422.5"/>
<use href="#p" x="290.5" y="383.5"/>
<use href="#p" x="295.5" y="379.5"/>
<use href="#p" x="274.5" y="429.5"/>
<use href="#p" x="306.5" y="399.5"/>
<use href="#p" x="291.5" y="400.5"/>
<use href="#p" x="298.5" y="427.5"/>
<use href="#p" x="293.5" y="358.5"/>
<use href="#p" x="304.5" y="431.5"/>
<use href="#p" x="298.5" y="424.5"/>
<use href="#p" x="279.5" y="386.5"/>
<use href="#p" x="312.5" y="402.5"/>
<use href="#p" x="294.5" y="377.5"/>
<use href="#p" x="292.5" y="343.5"/>
<use href="#p" x="296.5" y="369.5"/>
<use href="#p" x="298.5" y="394.5"/>
<use href="#p" x="291.5" y="413.5"/>
<use href="#p" x="276.5" y="386.5"/>
<use href="#p" x="280.5" y="346.5"/>
<use href="#p" x="295.5" y="407.5"/>
<use href="#p" x="284.5" y="433.5"/>
<use href="#p" x="304.5" y="327.5"/>
<use href="#p" x="274.5" y="426.5"/>
<use href="#p" x="279.5" y="400.5"/>
<use href="#p" x="297.5" y="421.5"/>
<use href="#p" x="317.5" y="437.5"/>
<use href="#p" x="297.5" y="429.5"/>
<use href="#p" x="301.5" y="433.5"/>
<use href="#p" x="316.5" y="435.5"/>
<use href="#p" x="305.5" y="430.5"/>
<use href="#p" x="315.5" y="388.5"/>
<use href="#p" x="309.5" y="418.5"/>
<use href="#p" x="301.5" y="363.5"/>
<use href="#p" x="290.5" y="387.5"/>
<use href="#p" x="292.5" y="375.5"/>
<use href="#p" x="302.5" y="413.5"/>
<use href="#p" x="288.5" y="435.5"/>
<use href="#p" x="324.5" y="435.5"/>
<use href="#p" x="299.5" y="418.5"/>
<use href="#p" x="284.5" y="346.5"/>
<use href="#p" x="305.5" y="428.5"/>
<use href="#p" x="275.5" y="406.5"/>
<use href="#p" x="302.5" y="365.5"/>
<use href="#p" x="311.5" y="402.5"/>
<use href="#p" x="286.5" y="383.5"/>
<use href="#p" x="302.5" y="351.5"/>
<use href="#p" x="286.5" y="402.5"/>
<use href="#p" x="278.5" y="421.5"/>
<use href="#p" x="296.5" y="353.5"/>
<use href="#p" x="301.5" y="426.5"/>
<use href="#p" x="312.5" y="409.5"/>
<use href="#p" x="292.5" y="428.5"/>
<use href="#p" x="324.5" y="431.5"/>
<use href="#p" x="324.5" y="436.5"/>
<use href="#p" x="311.5" y="423.5"/>
<use href="#p" x="288.5" y="421.5"/>
<use href="#p" x="291.5" y="385.5"/>
<use href="#p" x="315.5" y="409.5"/>
<use href="#p" x="296.5" y="415.5"/>
<use href="#p" x="301.5" y="435.5"/>
<use href="#p" x="284.5" y="432.5"/>
<use href="#p" x="298.5" y="419.5"/>
<use href="#p" x="289.5" y="394.5"/>
<use href="#p" x="313.5" y="403.5"/>
<use href="#p" x="293.5" y="406.5"/>
<use href="#p" x="287.5" y="404.5"/>
<use href="#p" x="283.5" y="423.5"/>
<use href="#p" x="305.5" y="421.5"/>
<use href="#p" x="299.5" y="370.5"/>
<use href="#p" x="284.5" y="439.5"/>
<use href="#p" x="300.5" y="434.5"/>
<use href="#p" x="297.5" y="372.5"/>
<use href="#p" x="290.5" y="431.5"/>
<use href="#p" x="292.5" y="440.5"/>
<use href="#p" x="290.5" y="401.5"/>
<use href="#p" x="293.5" y="437.5"/>
<use href="#p" x="294.5" y="412.5"/>
<use href="#p" x="288.5" y="322.5"/>
<use href="#p" x="300.5" y="359.5"/>
<use href="#p" x="299.5" y="401.5"/>
<use href="#p" x="285.5" y="426.5"/>
<use href="#p" x="281.5" y="433.5"/>
<use href="#p" x="306.5" y="432.5"/>
<use href="#p" x="301.5" y="440.5"/>
<use href="#p" x="293.5" y="433.5"/>
<use href="#p" x="297.5" y="409.5"/>
<use href="#p" x="293.5" y="363.5"/>
<use href="#p" x="282.5" y="399.5"/>
<use href="#p" x="317.5" y="409.5"/>
<use href="#p" x="301.5" y="409.5"/>
<use href="#p" x="304.5" y="346.5"/>
<use href="#p" x="300.5" y="390.5"/>
<use href="#p" x="275.5" y="436.5"/>
<use href="#p" x="294.5" y="440.5"/>
<use href="#p" x="307.5" y="416.5"/>
<use href="#p" x="288.5" y="354.5"/>
<use href="#p" x="296.5" y="416.5"/>
<use href="#p" x="300.5" y="400.5"/>
<use href="#p" x="303.5" y="427.5"/>
<use href="#p" x="305.5" y="439.5"/>
<use href="#p" x="302.5" y="375.5"/>
<use href="#p" x="291.5" y="402.5"/>
<use href="#p" x="302.5" y="387.5"/>
<use href="#p" x="300.5" y="406.5"/>
<use href="#p" x="299.5" y="440.5"/>
<use href="#p" x="305.5" y="430.5"/>
<use href="#p" x="320.5" y="416.5"/>
<use href="#p" x="301.5" y="432.5"/>
<use href="#p" x="287.5" y="431.5"/>
<use href="#p" x="289.5" y="401.5"/>
<use href="#p" x="291.5" y="434.5"/>
<use href="#p" x="306.5" y="395.5"/>
<use href="#p" x="310.5" y="438.5"/>
<use href="#p" x="275.5" y="428.5"/>
<use href="#p" x="272.5" y="432.5"/>
<use href="#p" x="266.5" y="437.5"/>
<use href="#p" x="305.5" y="435.5"/>
<use href="#p" x="309.5" y="428.5"/>
<use href="#p" x="302.5" y="415.5"/>
<use href="#p" x="299.5" y="371.5"/>
<use href="#p" x="299.5" y="426.5"/>
<use href="#p" x="286.5" y="391.5"/>
<use href="#p" x="290.5" y="436.5"/>
<use href="#p" x="285.5" y="375.5"/>
<use href="#p" x="309.5" y="438.5"/>
<use href="#p" x="284.5" y="437.5"/>
<use href="#p" x="294.5" y="416.5"/>
<use href="#p" x="300.5" y="400.5"/>
<use href="#p" x="294.5" y="407.5"/>
<use href="#p" x="300.5" y="392.5"/>
<use href="#p" x="299.5" y="376.5"/>
<use href="#p" x="291.5" y="432.5"/>
<use href="#p" x="294.5" y="412.5"/>
<use href="#p" x="304.5" y="395.5"/>
<use href="#p" x="307.5" y="412.5"/>
<use href="#p" x="326.5" y="433.5"/>
<use href="#p" x="287.5" y="399.5"/>
<use href="#p" x="292.5" y="359.5"/>
<use href="#p" x="291.5" y="396.5"/>
<use href="#p" x="271.5" y="420.5"/>
<use href="#p" x="302.5" y="411.5"/>
<use href="#p" x="299.5" y="403.5"/>
<use href="#p" x="297.5" y="426.5"/>
<use href="#p" x="275.5" y="398.5"/>
<use href="#p" x="287.5" y="362.5"/>
<use href="#p" x="301.5" y="414.5"/>
<use href="#p" x="282.5" y="423.5"/>
<use href="#p" x="316.5" y="440.5"/>
<use href="#p" x="289.5" y="418.5"/>
<use href="#p" x="291.5" y="432.5"/>
<use href="#p" x="304.5" y="364.5"/>
<use href="#p" x="305.5" y="435.5"/>
<use href="#p" x="296.5" y="413.5"/>
<use href="#p" x="302.5" y="432.5"/>
<use href="#p" x="306.5" y="402.5"/>
<use href="#p" x="316.5" y="423.5"/>
<use href="#p" x="285.5" y="329.5"/>
<use href="#p" x="294.5" y="439.5"/>
<use href="#p" x="321.5" y="434.5"/>
<use href="#p" x="285.5" y="357.5"/>
<use href="#p" x="304.5" y="437.5"/>
<use href="#p" x="291.5" y="422.5"/>
<use href="#p" x="285.5" y="381.5"/>
<use href="#p" x="292.5" y="412.5"/>
<use href="#p" x="291.5" y="357.5"/>
<use href="#p" x="323.5" y="423.5"/>
<use href="#p" x="290.5" y="418.5"/>
<use href="#p" x="275.5" y="421.5"/>
<use href="#p" x="304.5" y="367.5"/>
<use href="#p" x="289.5" y="412.5"/>
<use href="#p" x="286.5" y="354.5"/>
<use href="#p" x="323.5" y="432.5"/>
<use href="#p" x="312.5" y="436.5"/>
<use href="#p" x="308.5" y="403.5"/>
<use href="#p" x="288.5" y="420.5"/>
<use href="#p" x="289.5" y="406.5"/>
<use href="#p" x="293.5" y="438.5"/>
<use href="#p" x="321.5" y="438.5"/>
<use href="#p" x="302.5" y="417.5"/>
<use href="#p" x="293.5" y="395.5"/>
<use href="#p" x="292.5" y="324.5"/>
<use href="#p" x="293.5" y="394.5"/>
<use href="#p" x="300.5" y="378.5"/>
<use href="#p" x="288.5" y="412.5"/>
<use href="#p" x="291.5" y="422.5"/>
<use href="#p" x="293.5" y="427.5"/>
<use href="#p" x="300.5" y="388.5"/>
<use href="#p" x="305.5" y="430.5"/>
<use href="#p" x="317.5" y="430.5"/>
<use href="#p" x="307.5" y="361.5"/>
<use href="#p" x="310.5" y="432.5"/>
<use href="#p" x="310.5" y="377.5"/>
<use href="#p" x="296.5" y="430.5"/>
<use href="#p" x="312.5" y="427.5"/>
<use href="#p" x="320.5" y="440.5"/>
<use href="#p" x="289.5" y="377.5"/>
<use href="#p" x="333.5" y="431.5"/>
<use href="#p" x="293.5" y="408.5"/>
<use href="#p" x="293.5" y="420.5"/>
<use href="#p" x="292.5" y="431.5"/>
<use href="#p" x="290.5" y="361.5"/>
<use href="#p" x="278.5" y="392.5"/>
<use href="#p" x="311.5" y="382.5"/>
<use href="#p" x="300.5" y="411.5"/>
<use href="#p" x="300.5" y="394.5"/>
<use href="#p" x="281.5" y="418.5"/>
<use href="#p" x="290.5" y="397.5"/>
<use href="#p" x="301.5" y="374.5"/>
<use href="#p" x="305.5" y="440.5"/>
<use href="#p" x="300.5" y="394.5"/>
<use href="#p" x="307.5" y="426.5"/>
<use href="#p" x="329.5" y="434.5"/>
<use href="#p" x="314.5" y="431.5"/>
<use href="#p" x="295.5" y="333.5"/>
<use href="#p" x="301.5" y="425.5"/>
<use href="#p" x="312.5" y="425.5"/>
<use href="#p" x="289.5" y="422.5"/>
<use href="#p" x="301.5" y="413.5"/>
<use href="#p" x="295.5" y="346.5"/>
<use href="#p" x="309.5" y="428.5"/>
<use href="#p" x="296.5" y="421.5"/>
<use href="#p" x="296.5" y="395.5"/>
<use href="#p" x="289.5" y="420.5"/>
<use href="#p" x="305.5" y="433.5"/>
<use href="#p" x="280.5" y="429.5"/>
<use href="#p" x="291.5" y="433.5"/>
<use href="#p" x="287.5" y="330.5"/>
<use href="#p" x="297.5" y="428.5"/>
<use href="#p" x="291.5" y="409.5"/>
<use href="#p" x="300.5" y="429.5"/>
<use href="#p" x="293.5" y="425.5"/>
<use href="#p" x="299.5" y="385.5"/>
<use href="#p" x="304.5" y="391.5"/>
<use href="#p" x="299.5" y="402.5"/>
<use href="#p" x="303.5" y="388.5"/>
<use href="#p" x="309.5" y="440.5"/>
<use href="#p" x="271.5" y="377.5"/>
<use href="#p" x="299.5" y="406.5"/>
<use href="#p" x="271.5" y="432.5"/>
<use href="#p" x="280.5" y="429.5"/>
<use href="#p" x="295.5" y="392.5"/>
<use href="#p" x="296.5" y="433.5"/>
<use href="#p" x="295.5" y="385.5"/>
<use href="#p" x="281.5" y="436.5"/>
<use href="#p" x="296.5" y="342.5"/>
<use href="#p" x="312.5" y="423.5"/>
<use href="#p" x="292.5" y="409.5"/>
<use href="#p" x="285.5" y="391.5"/>
<use href="#p" x="307.5" y="438.5"/>
<use href="#p" x="287.5" y="399.5"/>
<use href="#p" x="298.5" y="365.5"/>
<use href="#p" x="303.5" y="390.5"/>
<use href="#p" x="293.5" y="425.5"/>
<use href="#p" x="308.5" y="398.5"/>
<use href="#p" x="307.5" y="424.5"/>
<use href="#p" x="278.5" y="376.5"/>
<use href="#p" x="304.5" y="371.5"/>
<use href="#p" x="294.5" y="377.5"/>
<use href="#p" x="296.5" y="423.5"/>
<use href="#p" x="270.5" y="401.5"/>
<use href="#p" x="283.5" y="407.5"/>
<use href="#p" x="296.5" y="346.5"/>
<use href="#p" x="279.5" y="347.5"/>
<use href="#p" x="283.5" y="428.5"/>
<use href="#p" x="324.5" y="430.5"/>
<use href="#p" x="289.5" y="349.5"/>
<use href="#p" x="290.5" y="412.5"/>
<use href="#p" x="303.5" y="427.5"/>
<use href="#p" x="286.5" y="436.5"/>
<use href="#p" x="304.5" y="413.5"/>
<use href="#p" x="309.5" y="425.5"/>
<use href="#p" x="307.5" y="439.5"/>
<use href="#p" x="282.5" y="439.5"/>
<use href="#p" x="298.5" y="422.5"/>
<use href="#p" x="293.5" y="356.5"/>
<use href="#p" x="295.5" y="370.5"/>
<use href="#p" x="291.5" y="415.5"/>
<use href="#p" x="270.5" y="413.5"/>
<use href="#p" x="282.5" y="436.5"/>
<use href="#p" x="290.5" y="403.5"/>
<use href="#p" x="294.5" y="434.5"/>
<use href="#p" x="310.5" y="431.5"/>
<use href="#p" x="288.5" y="387.5"/>
<use href="#p" x="316.5" y="409.5"/>
<use href="#p" x="310.5" y="373.5"/>
<use href="#p" x="294.5" y="332.5"/>
<use href="#p" x="313.5" y="416.5"/>
<use href="#p" x="306.5" y="377.5"/>
<use href="#p" x="305.5" y="378.5"/>
<use href="#p" x="300.5" y="374.5"/>
<use href="#p" x="317.5" y="401.5"/>
<use href="#p" x="285.5" y="436.5"/>
<use href="#p" x="297.5" y="342.5"/>
<use href="#p" x="313.5" y="412.5"/>
<use href="#p" x="288.5" y="351.5"/>
<use href="#p" x="274.5" y="408.5"/>
<use href="#p" x="317.5" y="435.5"/>
<use href="#p" x="298.5" y="417.5"/>
<use href="#p" x="306.5" y="422.5"/>
<use href="#p" x="289.5" y="342.5"/>
<use href="#p" x="307.5" y="433.5"/>
<use href="#p" x="276.5" y="421.5"/>
<use href="#p" x="288.5" y="440.5"/>
<use href="#p" x="294.5" y="415.5"/>
<use href="#p" x="295.5" y="429.5"/>
<use href="#p" x="318.5" y="388.5"/>
<use href="#p" x="304.5" y="386.5"/>
<use href="#p" x="293.5" y="436.5"/>
<use href="#p" x="293.5" y="418.5"/>
<use href="#p" x="308.5" y="415.5"/>
<use href="#p" x="298.5" y="336.5"/>
<use href="#p" x="293.5" y="380.5"/>
<use href="#p" x="305.5" y="374.5"/>
<use href="#p" x="312.5" y="419.5"/>
<use href="#p" x="306.5" y="399.5"/>
<use href="#p" x="297.5" y="418.5"/>
<use href="#p" x="305.5" y="399.5"/>
<use href="#p" x="300.5" y="430.5"/>
<use href="#p" x="304.5" y="440.5"/>
<use href="#p" x="298.5" y="395.5"/>
<use href="#p" x="310.5" y="423.5"/>
<use href="#p" x="310.5" y="388.5"/>
<use href="#p" x="302.5" y="434.5"/>
<use href="#p" x="293.5" y="409.5"/>
<use href="#p" x="294.5" y="406.5"/>
<use href="#p" x="305.5" y="412.5"/>
<use href="#p" x="298.5" y="375.5"/>
<use href="#p" x="319.5" y="416.5"/>
<use href="#p" x="315.5" y="437.5"/>
<use href="#p" x="299.5" y="430.5"/>
<use href="#p" x="306.5" y="439.5"/>
<use href="#p" x="298.5" y="440.5"/>
<use href="#p" x="278.5" y="393.5"/>
<use href="#p" x="306.5" y="371.5"/>
<use href="#p" x="292.5" y="366.5"/>
<use href="#p" x="291.5" y="334.5"/>
<use href="#p" x="293.5" y="436.5"/>
<use href="#p" x="299.5" y="385.5"/>
<use href="#p" x="315.5" y="435.5"/>
<use href="#p" x="316.5" y="401.5"/>
<use href="#p" x="288.5" y="384.5"/>
<use href="#p" x="297.5" y="332.5"/>
<use href="#p" x="287.5" y="430.5"/>
<use href="#p" x="306.5" y="439.5"/>
<use href="#p" x="292.5" y="438.5"/>
<use href="#p" x="284.5" y="434.5"/>
<use href="#p" x="295.5" y="440.5"/>
<use href="#p" x="301.5" y="346.5"/>
<use href="#p" x="296.5" y="414.5"/>
<use href="#p" x="321.5" y="434.5"/>
<use href="#p" x="298.5" y="389.5"/>
<use href="#p" x="301.5" y="401.5"/>
<use href="#p" x="304.5" y="409.5"/>
<use href="#p" x="294.5" y="360.5"/>
<use href="#p" x="286.5" y="362.5"/>
<use href="#p" x="321.5" y="413.5"/>
<use href="#p" x="304.5" y="434.5"/>
<use href="#p" x="315.5" y="415.5"/>
<use href="#p" x="302.5" y="430.5"/>
<use href="#p" x="282.5" y="412.5"/>
<use href="#p" x="284.5" y="402.5"/>
<use href="#p" x="300.5" y="400.5"/>
<use href="#p" x="307.5" y="392.5"/>
<use href="#p" x="283.5" y="380.5"/>
<use href="#p" x="297.5" y="423.5"/>
<use href="#p" x="276.5" y="433.5"/>
<use href="#p" x="327.5" y="428.5"/>
<use href="#p" x="303.5" y="327.5"/>
<use href="#p" x="302.5" y="400.5"/>
<use href="#p" x="302.5" y="421.5"/>
<use href="#p" x="292.5" y="345.5"/>
<use href="#p" x="290.5" y="325.5"/>
<use href="#p" x="295.5" y="402.5"/>
<use href="#p" x="292.5" y="422.5"/>
<use href="#p" x="271.5" y="436.5"/>
<use href="#p" x="299.5" y="421.5"/>
<use href="#p" x="304.5" y="397.5"/>
<use href="#p" x="288.5" y="417.5"/>
<use href="#p" x="304.5" y="437.5"/>
<use href="#p" x="302.5" y="400.5"/>
<use href="#p" x="285.5" y="389.5"/>
<use href="#p" x="288.5" y="398.5"/>
<use href="#p" x="299.5" y="346.5"/>
<use href="#p" x="288.5" y="372.5"/>
<use href="#p" x="290.5" y="398.5"/>
<use href="#p" x="298.5" y="335.5"/>
<use href="#p" x="293.5" y="422.5"/>
<use href="#p" x="279.5" y="405.5"/>
<use href="#p" x="312.5" y="390.5"/>
<use href="#p" x="290.5" y="417.5"/>
<use href="#p" x="278.5" y="402.5"/>
<use href="#p" x="276.5" y="428.5"/>
<use href="#p" x="287.5" y="402.5"/>
<use href="#p" x="297.5" y="415.5"/>
<use href="#p" x="302.5" y="373.5"/>
<use href="#p" x="297.5" y="351.5"/>
<use href="#p" x="285.5" y="433.5"/>
<use href="#p" x="295.5" y="434.5"/>
<use href="#p" x="291.5" y="336.5"/>
<use href="#p" x="304.5" y="433.5"/>
<use href="#p" x="322.5" y="440.5"/>
<use href="#p" x="281.5" y="391.5"/>
<use href="#p" x="301.5" y="400.5"/>
<use href="#p" x="275.5" y="398.5"/>
<use href="#p" x="302.5" y="420.5"/>
<use href="#p" x="297.5" y="418.5"/>
<use href="#p" x="297.5" y="436.5"/>
<use href="#p" x="294.5" y="430.5"/>
<use href="#p" x="275.5" y="359.5"/>
<use href="#p" x="300.5" y="406.5"/>
<use href="#p" x="294.5" y="359.5"/>
<use href="#p" x="286.5" y="422.5"/>
<use href="#p" x="316.5" y="410.5"/>
<use href="#p" x="302.5" y="383.5"/>
<use href="#p" x="293.5" y="375.5"/>
<use href="#p" x="319.5" y="430.5"/>
<use href="#p" x="302.5" y="424.5"/>
<use href="#p" x="295.5" y="417.5"/>
<use href="#p" x="318.5" y="421.5"/>
<use href="#p" x="300.5" y="426.5"/>
<use href="#p" x="304.5" y="358.5"/>
<use href="#p" x="291.5" y="438.5"/>
<use href="#p" x="299.5" y="430.5"/>
<use href="#p" x="296.5" y="422.5"/>
<use href="#p" x="276.5" y="390.5"/>
<use href="#p" x="309.5" y="397.5"/>
<use href="#p" x="298.5" y="391.5"/>
<use href="#p" x="296.5" y="427.5"/>
<use href="#p" x="299.5" y="393.5"/>
<use href="#p" x="304.5" y="417.5"/>
<use href="#p" x="305.5" y="438.5"/>
<use href="#p" x="286.5" y="403.5"/>
<use href="#p" x="300.5" y="420.5"/>
<use href="#p" x="299.5" y="336.5"/>
<use href="#p" x="290.5" y="341.5"/>
<use href="#p" x="283.5" y="436.5"/>
<use href="#p" x="304.5" y="439.5"/>
<use href="#p" x="301.5" y="376.5"/>
<use href="#p" x="301.5" y="434.5"/>
<use href="#p" x="287.5" y="373.5"/>
<use href="#p" x="295.5" y="431.5"/>
<use href="#p" x="306.5" y="438.5"/>
<use href="#p" x="297.5" y="337.5"/>
<use href="#p" x="293.5" y="439.5"/>
<use href="#p" x="268.5" y="383.5"/>
<use href="#p" x="302.5" y="426.5"/>
<use href="#p" x="285.5" y="435.5"/>
<use href="#p" x="312.5" y="432.5"/>
<use href="#p" x="276.5" y="361.5"/>
<use href="#p" x="299.5" y="378.5"/>
<use href="#p" x="296.5" y="355.5"/>
<use href="#p" x="306.5" y="422.5"/>
<use href="#p" x="298.5" y="382.5"/>
<use href="#p" x="294.5" y="426.5"/>
<use href="#p" x="286.5" y="396.5"/>
<use href="#p" x="296.5" y="397.5"/>
<use href="#p" x="310.5" y="428.5"/>
<use href="#p" x="298.5" y="436.5"/>
<use href="#p" x="267.5" y="426.5"/>
<use href="#p" x="296.5" y="428.5"/>
<use href="#p" x="303.5" y="434.5"/>
<use href="#p" x="289.5" y="401.5"/>
<use href="#p" x="277.5" y="420.5"/>
<use href="#p" x="284.5" y="434.5"/>
<use href="#p" x="312.5" y="431.5"/>
<use href="#p" x="289.5" y="342.5"/>
<use href="#p" x="306.5" y="372.5"/>
<use href="#p" x="304.5" y="368.5"/>
<use href="#p" x="301.5" y="366.5"/>
<use href="#p" x="302.5" y="438.5"/>
<use href="#p" x="275.5" y="421.5"/>
<use href="#p" x="320.5" y="438.5"/>
<use href="#p" x="299.5" y="374.5"/>
<use href="#p" x="305.5" y="420.5"/>
<use href="#p" x="296.5" y="370.5"/>
<use href="#p" x="309.5" y="405.5"/>
<use href="#p" x="297.5" y="363.5"/>
<use href="#p" x="318.5" y="424.5"/>
<use href="#p" x="298.5" y="422.5"/>
<use href="#p" x="284.5" y="361.5"/>
<use href="#p" x="289.5" y="403.5"/>
<use href="#p" x="292.5" y="379.5"/>
<use href="#p" x="300.5" y="440.5"/>
<use href="#p" x="304.5" y="418.5"/>
<use href="#p" x="284.5" y="390.5"/>
<use href="#p" x="302.5" y="414.5"/>
<use href="#p" x="288.5" y="326.5"/>
<use href="#p" x="310.5" y="417.5"/>
<use href="#p" x="300.5" y="422.5"/>
<use href="#p" x="301.5" y="429.5"/>
<use href="#p" x="293.5" y="375.5"/>
<use href="#p" x="284.5" y="396.5"/>
<use href="#p" x="285.5" y="431.5"/>
<use href="#p" x="276.5" y="440.5"/>
<use href="#p" x="310.5" y="431.5"/>
<use href="#p" x="293.5" y="410.5"/>
<use href="#p" x="291.5" y="406.5"/>
<use href="#p" x="280.5" y="364.5"/>
<use href="#p" x="290.5" y="423.5"/>
<use href="#p" x="313.5" y="428.5"/>
<use href="#p" x="313.5" y="426.5"/>
<use href="#p" x="279.5" y="338.5"/>
<use href="#p" x="302.5" y="415.5"/>
<use href="#p" x="291.5" y="347.5"/>
<use href="#p" x="297.5" y="420.5"/>
<use href="#p" x="309.5" y="436.5"/>
<use href="#p" x="286.5" y="370.5"/>
<use href="#p" x="300.5" y="439.5"/>
<use href="#p" x="308.5" y="432.5"/>
<use href="#p" x="298.5" y="400.5"/>
<use href="#p" x="290.5" y="393.5"/>
<use href="#p" x="295.5" y="372.5"/>
<use href="#p" x="307.5" y="436.5"/>
<use href="#p" x="297.5" y="415.5"/>
<use href="#p" x="268.5" y="404.5"/>
<use href="#p" x="294.5" y="364.5"/>
<use href="#p" x="279.5" y="377.5"/>
<use href="#p" x="301.5" y="406.5"/>
<use href="#p" x="290.5" y="344.5"/>
<use href="#p" x="307.5" y="404.5"/>
<use href="#p" x="302.5" y="429.5"/>
<use href="#p" x="293.5" y="424.5"/>
<use href="#p" x="291.5" y="432.5"/>
<use href="#p" x="310.5" y="377.5"/>
<use href="#p" x="306.5" y="391.5"/>
<use href="#p" x="321.5" y="432.5"/>
<use href="#p" x="283.5" y="423.5"/>
<use href="#p" x="294.5" y="409.5"/>
<use href="#p" x="284.5" y="424.5"/>
<use href="#p" x="326.5" y="437.5"/>
<use href="#p" x="298.5" y="400.5"/>
<use href="#p" x="289.5" y="406.5"/>
<use href="#p" x="306.5" y="361.5"/>
<use href="#p" x="308.5" y="431.5"/>
<use href="#p" x="292.5" y="427.5"/>
<use href="#p" x="288.5" y="383.5"/>
<use href="#p" x="290.5" y="396.5"/>
<use href="#p" x="311.5" y="410.5"/>
<use href="#p" x="323.5" y="429.5"/>
<use href="#p" x="293.5" y="332.5"/>
<use href="#p" x="300.5" y="429.5"/>
<use href="#p" x="278.5" y="358.5"/>
<use href="#p" x="302.5" y="432.5"/>
<use href="#p" x="308.5" y="410.5"/>
<use href="#p" x="302.5" y="368.5"/>
<use href="#p" x="288.5" y="391.5"/>
<use href="#p" x="291.5" y="428.5"/>
<use href="#p" x="289.5" y="381.5"/>
<use href="#p" x="282.5" y="402.5"/>
<use href="#p" x="290.5" y="401.5"/>
<use href="#p" x="306.5" y="437.5"/>
<use href="#p" x="309.5" y="333.5"/>
<use href="#p" x="307.5" y="425.5"/>
<use href="#p" x="287.5" y="403.5"/>
<use href="#p" x="299.5" y="357.5"/>
<use href="#p" x="289.5" y="425.5"/>
<use href="#p" x="314.5" y="430.5"/>
<use href="#p" x="299.5" y="406.5"/>
<use href="#p" x="294.5" y="415.5"/>
<use href="#p" x="290.5" y="349.5"/>
<use href="#p" x="275.5" y="420.5"/>
<use href="#p" x="300.5" y="408.5"/>
<use href="#p" x="296.5" y="373.5"/>
<use href="#p" x="293.5" y="351.5"/>
<use href="#p" x="285.5" y="413.5"/>
<use href="#p" x="317.5" y="430.5"/>
<use href="#p" x="282.5" y="414.5"/>
<use href="#p" x="288.5" y="368.5"/>
<use href="#p" x="309.5" y="339.5"/>
<use href="#p" x="280.5" y="390.5"/>
<use href="#p" x="296.5" y="436.5"/>
<use href="#p" x="317.5" y="417.5"/>
<use href="#p" x="314.5" y="420.5"/>
<use href="#p" x="310.5" y="438.5"/>
<use href="#p" x="318.5" y="402.5"/>
<use href="#p" x="305.5" y="411.5"/>
<use href="#p" x="298.5" y="407.5"/>
<use href="#p" x="295.5" y="397.5"/>
<use href="#p" x="308.5" y="439.5"/>
<use href="#p" x="309.5" y="383.5"/>
<use href="#p" x="293.5" y="409.5"/>
<use href="#p" x="280.5" y="369.5"/>
<use href="#p" x="296.5" y="410.5"/>
<use href="#p" x="283.5" y="427.5"/>
<use href="#p" x="303.5" y="409.5"/>
<use href="#p" x="297.5" y="378.5"/>
<use href="#p" x="313.5" y="437.5"/>
<use href="#p" x="287.5" y="414.5"/>
<use href="#p" x="306.5" y="363.5"/>
<use href="#p" x="285.5" y="358.5"/>
<use href="#p" x="299.5" y="404.5"/>
<use href="#p" x="308.5" y="434.5"/>
<use href="#p" x="290.5" y="418.5"/>
<use href="#p" x="321.5" y="434.5"/>
<use href="#p" x="301.5" y="368.5"/>
<use href="#p" x="295.5" y="432.5"/>
<use href="#p" x="315.5" y="438.5"/>
<use href="#p" x="306.5" y="394.5"/>
<use href="#p" x="300.5" y="369.5"/>
<use href="#p" x="296.5" y="406.5"/>
<use href="#p" x="290.5" y="398.5"/>
<use href="#p" x="310.5" y="437.5"/>
<use href="#p" x="275.5" y="436.5"/>
<use href="#p" x="329.5" y="440.5"/>
<use href="#p" x="288.5" y="386.5"/>
<use href="#p" x="308.5" y="435.5"/>
<use href="#p" x="264.5" y="428.5"/>
<use href="#p" x="302.5" y="399.5"/>
<use href="#p" x="306.5" y="407.5"/>
<use href="#p" x="297.5" y="437.5"/>
<use href="#p" x="306.5" y="408.5"/>
<use href="#p" x="293.5" y="399.5"/>
<use href="#p" x="303.5" y="434.5"/>
<use href="#p" x="286.5" y="407.5"/>
<use href="#p" x="296.5" y="432.5"/>
<use href="#p" x="300.5" y="425.5"/>
<use href="#p" x="285.5" y="425.5"/>
<use href="#p" x="293.5" y="402.5"/>
<use href="#p" x="293.5" y="402.5"/>
<use href="#p" x="283.5" y="322.5"/>
<use href="#p" x="326.5" y="434.5"/>
<use href="#p" x="313.5" y="428.5"/>
<use href="#p" x="311.5" y="385.5"/>
<use href="#p" x="294.5" y="365.5"/>
<use href="#p" x="290.5" y="360.5"/>
<use href="#p" x="280.5" y="356.5"/>
<use href="#p" x="294.5" y="400.5"/>
<use href="#p" x="301.5" y="386.5"/>
<use href="#p" x="301.5" y="440.5"/>
<use href="#p" x="304.5" y="411.5"/>
<use href="#p" x="302.5" y="423.5"/>
<use href="#p" x="294.5" y="326.5"/>
<use href="#p" x="293.5" y="420.5"/>
<use href="#p" x="306.5" y="408.5"/>
<use href="#p" x="304.5" y="391.5"/>
<use href="#p" x="315.5" y="372.5"/>
<use href="#p" x="290.5" y="405.5"/>
<use href="#p" x="302.5" y="416.5"/>
<use href="#p" x="282.5" y="435.5"/>
<use href="#p" x="286.5" y="423.5"/>
<use href="#p" x="314.5" y="427.5"/>
<use href="#p" x="305.5" y="439.5"/>
<use href="#p" x="301.5" y="426.5"/>
<use href="#p" x="288.5" y="417.5"/>
<use href="#p" x="289.5" y="430.5"/>
<use href="#p" x="312.5" y="373.5"/>
<use href="#p" x="294.5" y="429.5"/>
<use href="#p" x="299.5" y="365.5"/>
<use href="#p" x="271.5" y="428.5"/>
<use href="#p" x="325.5" y="438.5"/>
<use href="#p" x="297.5" y="439.5"/>
<use href="#p" x="297.5" y="429.5"/>
<use href="#p" x="294.5" y="403.5"/>
<use href="#p" x="279.5" y="336.5"/>
<use href="#p" x="293.5" y="356.5"/>
<use href="#p" x="296.5" y="354.5"/>
<use href="#p" x="291.5" y="408.5"/>
<use href="#p" x="303.5" y="388.5"/>
<use href="#p" x="284.5" y="412.5"/>
<use href="#p" x="297.5" y="420.5"/>
<use href="#p" x="291.5" y="425.5"/>
<use href="#p" x="280.5" y="408.5"/>
<use href="#p" x="295.5" y="403.5"/>
<use href="#p" x="287.5" y="390.5"/>
<use href="#p" x="313.5" y="435.5"/>
<use href="#p" x="286.5" y="440.5"/>
<use href="#p" x="302.5" y="410.5"/>
<use href="#p" x="304.5" y="434.5"/>
<use href="#p" x="298.5" y="414.5"/>
<use href="#p" x="295.5" y="416.5"/>
<use href="#p" x="290.5" y="436.5"/>
<use href="#p" x="281.5" y="386.5"/>
<use href="#p" x="287.5" y="436.5"/>
<use href="#p" x="293.5" y="400.5"/>
<use href="#p" x="314.5" y="403.5"/>
<use href="#p" x="290.5" y="432.5"/>
<use href="#p" x="290.5" y="425.5"/>
<use href="#p" x="302.5" y="411.5"/>
<use href="#p" x="299.5" y="430.5"/>
<use href="#p" x="288.5" y="418.5"/>
<use href="#p" x="293.5" y="404.5"/>
<use href="#p" x="310.5" y="424.5"/>
<use href="#p" x="309.5" y="433.5"/>
<use href="#p" x="290.5" y="434.5"/>
<use href="#p" x="300.5" y="357.5"/>
<use href="#p" x="304.5" y="423.5"/>
<use href="#p" x="276.5" y="429.5"/>
<use href="#p" x="280.5" y="438.5"/>
<use href="#p" x="306.5" y="432.5"/>
<use href="#p" x="302.5" y="402.5"/>
<use href="#p" x="280.5" y="408.5"/>
<use href="#p" x="298.5" y="382.5"/>
<use href="#p" x="311.5" y="439.5"/>
<use href="#p" x="300.5" y="341.5"/>
<use href="#p" x="287.5" y="437.5"/>
<use href="#p" x="303.5" y="386.5"/>
<use href="#p" x="325.5" y="413.5"/>
<use href="#p" x="292.5" y="335.5"/>
<use href="#p" x="290.5" y="347.5"/>
<use href="#p" x="330.5" y="430.5"/>
<use href="#p" x="307.5" y="421.5"/>
<use href="#p" x="305.5" y="424.5"/>
<use href="#p" x="295.5" y="395.5"/>
<use href="#p" x="293.5" y="422.5"/>
<use href="#p" x="309.5" y="395.5"/>
<use href="#p" x="312.5" y="438.5"/>
<use href="#p" x="281.5" y="430.5"/>
<use href="#p" x="315.5" y="415.5"/>
<use href="#p" x="289.5" y="405.5"/>
<use href="#p" x="312.5" y="415.5"/>
<use href="#p" x="304.5" y="337.5"/>
<use href="#p" x="278.5" y="393.5"/>
<use href="#p" x="284.5" y="363.5"/>
<use href="#p" x="287.5" y="437.5"/>
<use href="#p" x="332.5" y="440.5"/>
<use href="#p" x="289.5" y="390.5"/>
<use href="#p" x="304.5" y="414.5"/>
<use href="#p" x="296.5" y="381.5"/>
<use href="#p" x="297.5" y="420.5"/>
<use href="#p" x="278.5" y="354.5"/>
<use href="#p" x="284.5" y="432.5"/>
<use href="#p" x="301.5" y="396.5"/>
<use href="#p" x="300.5" y="393.5"/>
<use href="#p" x="288.5" y="352.5"/>
<use href="#p" x="288.5" y="334.5"/>
<use href="#p" x="304.5" y="411.5"/>
<use href="#p" x="282.5" y="395.5"/>
<use href="#p" x="304.5" y="433.5"/>
<use href="#p" x="279.5" y="380.5"/>
<use href="#p" x="297.5" y="439.5"/>
<use href="#p" x="276.5" y="432.5"/>
<use href="#p" x="296.5" y="421.5"/>
<use href="#p" x="309.5" y="429.5"/>
<use href="#p" x="314.5" y="434.5"/>
<use href="#p" x="280.5" y="385.5"/>
<use href="#p" x="273.5" y="418.5"/>
<use href="#p" x="275.5" y="426.5"/>
<use href="#p" x="302.5" y="405.5"/>
<use href="#p" x="301.5" y="367.5"/>
<use href="#p" x="309.5" y="330.5"/>
<use href="#p" x="293.5" y="402.5"/>
<use href="#p" x="322.5" y="421.5"/>
<use href="#p" x="291.5" y="427.5"/>
<use href="#p" x="311.5" y="427.5"/>
<use href="#p" x="325.5" y="428.5"/>
<use href="#p" x="308.5" y="389.5"/>
<use href="#p" x="316.5" y="421.5"/>
<use href="#p" x="300.5" y="353.5"/>
<use href="#p" x="253.5" y="385.5"/>
<use href="#p" x="323.5" y="412.5"/>
<use href="#p" x="299.5" y="436.5"/>
<use href="#p" x="291.5" y="424.5"/>
<use href="#p" x="291.5" y="344.5"/>
<use href="#p" x="293.5" y="354.5"/>
<use href="#p" x="297.5" y="322.5"/>
<use href="#p" x="299.5" y="425.5"/>
<use href="#p" x="320.5" y="431.5"/>
<use href="#p" x="323.5" y="395.5"/>
<use href="#p" x="320.5" y="397.5"/>
<use href="#p" x="297.5" y="426.5"/>
<use href="#p" x="299.5" y="418.5"/>
<use href="#p" x="291.5" y="406.5"/>
<use href="#p" x="288.5" y="421.5"/>
<use href="#p" x="293.5" y="425.5"/>
<use href="#p" x="286.5" y="425.5"/>
<use href="#p" x="289.5" y="435.5"/>
<use href="#p" x="312.5" y="383.5"/>
<use href="#p" x="325.5" y="436.5"/>
<use href="#p" x="325.5" y="419.5"/>
<use href="#p" x="277.5" y="411.5"/>
<use href="#p" x="286.5" y="346.5"/>
<use href="#p" x="299.5" y="417.5"/>
<use href="#p" x="309.5" y="407.5"/>
<use href="#p" x="277.5" y="438.5"/>
<use href="#p" x="317.5" y="436.5"/>
<use href="#p" x="309.5" y="434.5"/>
<use href="#p" x="277.5" y="440.5"/>
<use href="#p" x="300.5" y="431.5"/>
<use href="#p" x="344.5" y="429.5"/>
<use href="#p" x="277.5" y="425.5"/>
<use href="#p" x="314.5" y="374.5"/>
<use href="#p" x="278.5" y="435.5"/>
<use href="#p" x="269.5" y="394.5"/>
<use href="#p" x="294.5" y="404.5"/>
<use href="#p" x="300.5" y="421.5"/>
<use href="#p" x="305.5" y="427.5"/>
<use href="#p" x="286.5" y="388.5"/>
<use href="#p" x="316.5" y="366.5"/>
<use href="#p" x="283.5" y="421.5"/>
<use href="#p" x="287.5" y="352.5"/>
<use href="#p" x="300.5" y="338.5"/>
<use href="#p" x="314.5" y="421.5"/>
<use href="#p" x="292.5" y="434.5"/>
<use href="#p" x="305.5" y="408.5"/>
<use href="#p" x="297.5" y="392.5"/>
<use href="#p" x="281.5" y="430.5"/>
<use href="#p" x="303.5" y="388.5"/>
<use href="#p" x="267.5" y="409.5"/>
<use href="#p" x="327.5" y="439.5"/>
<use href="#p" x="313.5" y="382.5"/>
<use href="#p" x="264.5" y="373.5"/>
<use href="#p" x="286.5" y="387.5"/>
<use href="#p" x="290.5" y="405.5"/>
<use href="#p" x="277.5" y="375.5"/>
<use href="#p" x="319.5" y="433.5"/>
<use href="#p" x="281.5" y="439.5"/>
<use href="#p" x="305.5" y="434.5"/>
<use href="#p" x="273.5" y="362.5"/>
<use href="#p" x="267.5" y="416.5"/>
<use href="#p" x="290.5" y="355.5"/>
<use href="#p" x="342.5" y="425.5"/>
<use href="#p" x="311.5" y="432.5"/>
<use href="#p" x="303.5" y="438.5"/>
<use href="#p" x="312.5" y="438.5"/>
<use href="#p" x="280.5" y="404.5"/>
<use href="#p" x="308.5" y="432.5"/>
<use href="#p" x="287.5" y="413.5"/>
<use href="#p" x="297.5" y="335.5"/>
<use href="#p" x="326.5" y="431.5"/>
<use href="#p" x="305.5" y="412.5"/>
<use href="#p" x="297.5" y="338.5"/>
<use href="#p" x="287.5" y="356.5"/>
<use href="#p" x="312.5" y="405.5"/>
<use href="#p" x="301.5" y="418.5"/>
<use href="#p" x="264.5" y="418.5"/>
<use href="#p" x="330.5" y="427.5"/>
<use href="#p" x="301.5" y="438.5"/>
<use href="#p" x="288.5" y="402.5"/>
<use href="#p" x="294.5" y="428.5"/>
<use href="#p" x="282.5" y="401.5"/>
<use href="#p" x="279.5" y="436.5"/>
<use href="#p" x="305.5" y="431.5"/>
<use href="#p" x="300.5" y="345.5"/>
<use href="#p" x="283.5" y="402.5"/>
<use href="#p" x="270.5" y="396.5"/>
<use href="#p" x="291.5" y="420.5"/>
<use href="#p" x="337.5" y="419.5"/>
<use href="#p" x="300.5" y="363.5"/>
<use href="#p" x="309.5" y="397.5"/>
<use href="#p" x="296.5" y="418.5"/>
<use href="#p" x="310.5" y="428.5"/>
<use href="#p" x="273.5" y="406.5"/>
<use href="#p" x="312.5" y="419.5"/>
<use href="#p" x="277.5" y="435.5"/>
<use href="#p" x="306.5" y="370.5"/>
<use href="#p" x="313.5" y="419.5"/>
<use href="#p" x="303.5" y="366.5"/>
<use href="#p" x="321.5" y="399.5"/>
<use href="#p" x="295.5" y="406.5"/>
<use href="#p" x="297.5" y="424.5"/>
<use href="#p" x="269.5" y="408.5"/>
<use href="#p" x="290.5" y="405.5"/>
<use href="#p" x="298.5" y="410.5"/>
<use href="#p" x="290.5" y="365.5"/>
<use href="#p" x="301.5" y="404.5"/>
<use href="#p" x="279.5" y="380.5"/>
<use href="#p" x="319.5" y="391.5"/>
<use href="#p" x="310.5" y="411.5"/>
<use href="#p" x="304.5" y="403.5"/>
<use href="#p" x="278.5" y="421.5"/>
<use href="#p" x="300.5" y="440.5"/>
<use href="#p" x="270.5" y="427.5"/>
<use href="#p" x="295.5" y="429.5"/>
<use href="#p" x="324.5" y="388.5"/>
<use href="#p" x="310.5" y="427.5"/>
<use href="#p" x="269.5" y="438.5"/>
<use href="#p" x="327.5" y="397.5"/>
<use href="#p" x="275.5" y="428.5"/>
<use href="#p" x="311.5" y="392.5"/>
<use href="#p" x="295.5" y="440.5"/>
<use href="#p" x="298.5" y="404.5"/>
<use href="#p" x="308.5" y="430.5"/>
<use href="#p" x="283.5" y="390.5"/>
<use href="#p" x="283.5" y="385.5"/>
<use href="#p" x="315.5" y="439.5"/>
<use href="#p" x="294.5" y="397.5"/>
<use href="#p" x="292.5" y="418.5"/>
<use href="#p" x="296.5" y="438.5"/>
<use href="#p" x="299.5" y="439.5"/>
<use href="#p" x="246.5" y="359.5"/>
<use href="#p" x="311.5" y="436.5"/>
<use href="#p" x="277.5" y="408.5"/>
<use href="#p" x="316.5" y="438.5"/>
<use href="#p" x="288.5" y="430.5"/>
<use href="#p" x="276.5" y="395.5"/>
<use href="#p" x="299.5" y="391.5"/>
<use href="#p" x="290.5" y="383.5"/>
<use href="#p" x="286.5" y="401.5"/>
<use href="#p" x="257.5" y="401.5"/>
<use href="#p" x="294.5" y="437.5"/>
<use href="#p" x="305.5" y="428.5"/>
<use href="#p" x="282.5" y="398.5"/>
<use href="#p" x="275.5" y="408.5"/>
<use href="#p" x="262.5" y="408.5"/>
<use href="#p" x="315.5" y="440.5"/>
<use href="#p" x="319.5" y="401.5"/>
<use href="#p" x="328.5" y="408.5"/>
<use href="#p" x="294.5" y="402.5"/>
<use href="#p" x="281.5" y="391.5"/>
<use href="#p" x="291.5" y="332.5"/>
<use href="#p" x="299.5" y="421.5"/>
<use href="#p" x="328.5" y="427.5"/>
<use href="#p" x="315.5" y="377.5"/>
<use href="#p" x="295.5" y="397.5"/>
<use href="#p" x="302.5" y="395.5"/>
<use href="#p" x="301.5" y="426.5"/>
<use href="#p" x="287.5" y="383.5"/>
<use href="#p" x="284.5" y="355.5"/>
<use href="#p" x="312.5" y="420.5"/>
<use href="#p" x="284.5" y="421.5"/>
<use href="#p" x="280.5" y="421.5"/>
<use href="#p" x="298.5" y="423.5"/>
<use href="#p" x="268.5" y="417.5"/>
<use href="#p" x="318.5" y="429.5"/>
<use href="#p" x="283.5" y="398.5"/>
<use href="#p" x="314.5" y="425.5"/>
<use href="#p" x="303.5" y="438.5"/>
<use href="#p" x="301.5" y="432.5"/>
<use href="#p" x="295.5" y="386.5"/>
<use href="#p" x="268.5" y="422.5"/>
<use href="#p" x="305.5" y="406.5"/>
<use href="#p" x="283.5" y="382.5"/>
<use href="#p" x="264.5" y="378.5"/>
<use href="#p" x="326.5" y="432.5"/>
<use href="#p" x="298.5" y="435.5"/>
<use href="#p" x="308.5" y="432.5"/>
<use href="#p" x="280.5" y="434.5"/>
<use href="#p" x="276.5" y="332.5"/>
<use href="#p" x="296.5" y="359.5"/>
<use href="#p" x="297.5" y="440.5"/>
<use href="#p" x="301.5" y="436.5"/>
<use href="#p" x="252.5" y="439.5"/>
<use href="#p" x="315.5" y="427.5"/>
<use href="#p" x="290.5" y="358.5"/>
<use href="#p" x="297.5" y="411.5"/>
<use href="#p" x="316.5" y="414.5"/>
<use href="#p" x="295.5" y="393.5"/>
<use href="#p" x="330.5" y="427.5"/>
<use href="#p" x="280.5" y="406.5"/>
<use href="#p" x="277.5" y="426.5"/>
<use href="#p" x="306.5" y="420.5"/>
<use href="#p" x="316.5" y="383.5"/>
<use href="#p" x="297.5" y="371.5"/>
<use href="#p" x="309.5" y="440.5"/>
<use href="#p" x="285.5" y="416.5"/>
<use href="#p" x="296.5" y="395.5"/>
<use href="#p" x="323.5" y="407.5"/>
<use href="#p" x="267.5" y="432.5"/>
<use href="#p" x="270.5" y="367.5"/>
<use href="#p" x="266.5" y="422.5"/>
<use href="#p" x="289.5" y="393.5"/>
<use href="#p" x="305.5" y="397.5"/>
<use href="#p" x="336.5" y="436.5"/>
<use href="#p" x="279.5" y="367.5"/>
<use href="#p" x="295.5" y="420.5"/>
<use href="#p" x="310.5" y="349.5"/>
<use href="#p" x="257.5" y="429.5"/>
<use href="#p" x="288.5" y="378.5"/>
<use href="#p" x="288.5" y="440.5"/>
<use href="#p" x="264.5" y="432.5"/>
<use href="#p" x="310.5" y="380.5"/>
<use href="#p" x="270.5" y="399.5"/>
<use href="#p" x="291.5" y="429.5"/>
<use href="#p" x="286.5" y="403.5"/>
<use href="#p" x="322.5" y="416.5"/>
<use href="#p" x="290.5" y="426.5"/>
<use href="#p" x="302.5" y="375.5"/>
<use href="#p" x="283.5" y="360.5"/>
<use href="#p" x="283.5" y="437.5"/>
<use href="#p" x="305.5" y="431.5"/>
<use href="#p" x="302.5" y="425.5"/>
<use href="#p" x="301.5" y="400.5"/>
<use href="#p" x="283.5" y="377.5"/>
<use href="#p" x="277.5" y="429.5"/>
<use href="#p" x="294.5" y="427.5"/>
<use href="#p" x="274.5" y="396.5"/>
<use href="#p" x="322.5" y="395.5"/>
<use href="#p" x="307.5" y="397.5"/>
<use href="#p" x="297.5" y="408.5"/>
<use href="#p" x="304.5" y="390.5"/>
<use href="#p" x="327.5" y="439.5"/>
<use href="#p" x="285.5" y="435.5"/>
<use href="#p" x="286.5" y="428.5"/>
<use href="#p" x="302.5" y="416.5"/>
<use href="#p" x="298.5" y="381.5"/>
<use href="#p" x="283.5" y="375.5"/>
<use href="#p" x="298.5" y="428.5"/>
<use href="#p" x="298.5" y="438.5"/>
<use href="#p" x="308.5" y="440.5"/>
<use href="#p" x="288.5" y="431.5"/>
<use href="#p" x="302.5" y="348.5"/>
<use href="#p" x="295.5" y="382.5"/>
<use href="#p" x="272.5" y="361.5"/>
<use href="#p" x="273.5" y="379.5"/>
<use href="#p" x="310.5" y="409.5"/>
<use href="#p" x="279.5" y="429.5"/>
<use href="#p" x="324.5" y="428.5"/>
<use href="#p" x="286.5" y="407.5"/>
<use href="#p" x="277.5" y="353.5"/>
<use href="#p" x="275.5" y="389.5"/>
<use href="#p" x="317.5" y="368.5"/>
<use href="#p" x="319.5" y="427.5"/>
<use href="#p" x="296.5" y="440.5"/>
<use href="#p" x="315.5" y="397.5"/>
<use href="#p" x="287.5" y="387.5"/>
<use href="#p" x="306.5" y="425.5"/>
<use href="#p" x="275.5" y="400.5"/>
<use href="#p" x="285.5" y="410.5"/>
<use href="#p" x="317.5" y="430.5"/>
<use href="#p" x="315.5" y="433.5"/>
<use href="#p" x="300.5" y="407.5"/>
<use href="#p" x="308.5" y="419.5"/>
<use href="#p" x="302.5" y="391.5"/>
<use href="#p" x="304.5" y="422.5"/>
<use href="#p" x="264.5" y="438.5"/>
<use href="#p" x="307.5" y="420.5"/>
<use href="#p" x="285.5" y="421.5"/>
<use href="#p" x="326.5" y="406.5"/>
<use href="#p" x="313.5" y="412.5"/>
<use href="#p" x="298.5" y="384.5"/>
<use href="#p" x="303.5" y="418.5"/>
<use href="#p" x="300.5" y="440.5"/>
<use href="#p" x="296.5" y="330.5"/>
<use href="#p" x="316.5" y="423.5"/>
<use href="#p" x="276.5" y="342.5"/>
<use href="#p" x="294.5" y="403.5"/>
<use href="#p" x="324.5" y="407.5"/>
<use href="#p" x="310.5" y="421.5"/>
<use href="#p" x="297.5" y="431.5"/>
<use href="#p" x="303.5" y="404.5"/>
<use href="#p" x="284.5" y="435.5"/>
<use href="#p" x="301.5" y="440.5"/>
<use href="#p" x="279.5" y="397.5"/>
<use href="#p" x="299.5" y="428.5"/>
<use href="#p" x="320.5" y="438.5"/>
<use href="#p" x="316.5" y="428.5"/>
<use href="#p" x="306.5" y="403.5"/>
<use href="#p" x="303.5" y="359.5"/>
<use href="#p" x="283.5" y="413.5"/>
<use href="#p" x="315.5" y="364.5"/>
<use href="#p" x="299.5" y="419.5"/>
<use href="#p" x="267.5" y="435.5"/>
<use href="#p" x="296.5" y="361.5"/>
<use href="#p" x="257.5" y="428.5"/>
<use href="#p" x="303.5" y="438.5"/>
<use href="#p" x="313.5" y="414.5"/>
<use href="#p" x="281.5" y="417.5"/>
<use href="#p" x="272.5" y="409.5"/>
<use href="#p" x="308.5" y="380.5"/>
<use href="#p" x="272.5" y="433.5"/>
<use href="#p" x="288.5" y="374.5"/>
<use href="#p" x="298.5" y="423.5"/>
<use href="#p" x="286.5" y="361.5"/>
<use href="#p" x="268.5" y="390.5"/>
<use href="#p" x="273.5" y="424.5"/>
<use href="#p" x="315.5" y="410.5"/>
<use href="#p" x="313.5" y="422.5"/>
<use href="#p" x="276.5" y="422.5"/>
<use href="#p" x="317.5" y="415.5"/>
<use href="#p" x="317.5" y="432.5"/>
<use href="#p" x="303.5" y="406.5"/>
<use href="#p" x="301.5" y="428.5"/>
<use href="#p" x="317.5" y="439.5"/>
<use href="#p" x="293.5" y="334.5"/>
<use href="#p" x="305.5" y="327.5"/>
<use href="#p" x="291.5" y="434.5"/>
<use href="#p" x="267.5" y="377.5"/>
<use href="#p" x="307.5" y="413.5"/>
<use href="#p" x="327.5" y="425.5"/>
<use href="#p" x="286.5" y="388.5"/>
<use href="#p" x="263.5" y="361.5"/>
<use href="#p" x="292.5" y="397.5"/>
<use href="#p" x="305.5" y="432.5"/>
<use href="#p" x="294.5" y="427.5"/>
<use href="#p" x="293.5" y="329.5"/>
<use href="#p" x="276.5" y="400.5"/>
<use href="#p" x="296.5" y="387.5"/>
<use href="#p" x="278.5" y="388.5"/>
<use href="#p" x="321.5" y="400.5"/>
<use href="#p" x="288.5" y="423.5"/>
<use href="#p" x="293.5" y="348.5"/>
<use href="#p" x="346.5" y="440.5"/>
<use href="#p" x="336.5" y="432.5"/>
<use href="#p" x="333.5" y="423.5"/>
<use href="#p" x="320.5" y="427.5"/>
<use href="#p" x="316.5" y="438.5"/>
<use href="#p" x="306.5" y="439.5"/>
<use href="#p" x="345.5" y="440.5"/>
<use href="#p" x="348.5" y="436.5"/>
<use href="#p" x="339.5" y="432.5"/>
<use href="#p" x="319.5" y="396.5"/>
<use href="#p" x="337.5" y="434.5"/>
<use href="#p" x="348.5" y="437.5"/>
<use href="#p" x="315.5" y="429.5"/>
<use href="#p" x="313.5" y="404.5"/>
<use href="#p" x="313.5" y="394.5"/>
<use href="#p" x="308.5" y="429.5"/>
<use href="#p" x="322.5" y="435.5"/>
<use href="#p" x="317.5" y="379.5"/>
<use href="#p" x="313.5" y="408.5"/>
<use href="#p" x="319.5" y="384.5"/>
<use href="#p" x="323.5" y="440.5"/>
<use href="#p" x="308.5" y="418.5"/>
<use href="#p" x="325.5" y="440.5"/>
<use href="#p" x="320.5" y="423.5"/>
<use href="#p" x="317.5" y="404.5"/>
<use href="#p" x="350.5" y="440.5"/>
<use href="#p" x="350.5" y="438.5"/>
<use href="#p" x="316.5" y="417.5"/>
<use href="#p" x="328.5" y="428.5"/>
<use href="#p" x="316.5" y="426.5"/>
<use href="#p" x="340.5" y="433.5"/>
<use href="#p" x="307.5" y="404.5"/>
<use href="#p" x="331.5" y="432.5"/>
<use href="#p" x="320.5" y="433.5"/>
<use href="#p" x="317.5" y="413.5"/>
<use href="#p" x="321.5" y="432.5"/>
<use href="#p" x="333.5" y="436.5"/>
<use href="#p" x="324.5" y="389.5"/>
<use href="#p" x="304.5" y="423.5"/>
<use href="#p" x="304.5" y="420.5"/>
<use href="#p" x="311.5" y="381.5"/>
<use href="#p" x="330.5" y="435.5"/>
<use href="#p" x="325.5" y="419.5"/>
<use href="#p" x="336.5" y="439.5"/>
<use href="#p" x="329.5" y="428.5"/>
<use href="#p" x="309.5" y="409.5"/>
<use href="#p" x="327.5" y="422.5"/>
<use href="#p" x="315.5" y="400.5"/>
<use href="#p" x="309.5" y="413.5"/>
<use href="#p" x="317.5" y="425.5"/>
<use href="#p" x="332.5" y="416.5"/>
<use href="#p" x="319.5" y="422.5"/>
<use href="#p" x="331.5" y="437.5"/>
<use href="#p" x="309.5" y="407.5"/>
<use href="#p" x="333.5" y="433.5"/>
<use href="#p" x="315.5" y="395.5"/>
<use href="#p" x="314.5" y="436.5"/>
<use href="#p" x="321.5" y="416.5"/>
<use href="#p" x="321.5" y="405.5"/>
<use href="#p" x="341.5" y="436.5"/>
<use href="#p" x="314.5" y="404.5"/>
<use href="#p" x="342.5" y="431.5"/>
<use href="#p" x="315.5" y="413.5"/>
<use href="#p" x="321.5" y="402.5"/>
<use href="#p" x="340.5" y="431.5"/>
<use href="#p" x="332.5" y="412.5"/>
<use href="#p" x="336.5" y="431.5"/>
<use href="#p" x="338.5" y="433.5"/>
<use href="#p" x="302.5" y="386.5"/>
<use href="#p" x="317.5" y="427.5"/>
<use href="#p" x="315.5" y="403.5"/>
<use href="#p" x="333.5" y="419.5"/>
<use href="#p" x="310.5" y="405.5"/>
<use href="#p" x="302.5" y="432.5"/>
<use href="#p" x="333.5" y="411.5"/>
<use href="#p" x="320.5" y="428.5"/>
<use href="#p" x="300.5" y="382.5"/>
<use href="#p" x="320.5" y="434.5"/>
<use href="#p" x="325.5" y="397.5"/>
<use href="#p" x="328.5" y="402.5"/>
<use href="#p" x="311.5" y="425.5"/>
<use href="#p" x="317.5" y="382.5"/>
<use href="#p" x="306.5" y="437.5"/>
<use href="#p" x="329.5" y="433.5"/>
<use href="#p" x="334.5" y="436.5"/>
<use href="#p" x="321.5" y="401.5"/>
<use href="#p" x="310.5" y="411.5"/>
<use href="#p" x="338.5" y="428.5"/>
<use href="#p" x="306.5" y="399.5"/>
<use href="#p" x="320.5" y="434.5"/>
<use href="#p" x="310.5" y="436.5"/>
<use href="#p" x="321.5" y="387.5"/>
<use href="#p" x="302.5" y="393.5"/>
<use href="#p" x="301.5" y="399.5"/>
<use href="#p" x="342.5" y="434.5"/>
<use href="#p" x="326.5" y="438.5"/>
<use href="#p" x="317.5" y="440.5"/>
<use href="#p" x="345.5" y="432.5"/>
<use href="#p" x="326.5" y="405.5"/>
<use href="#p" x="318.5" y="437.5"/>
<use href="#p" x="323.5" y="427.5"/>
<use href="#p" x="325.5" y="437.5"/>
<use href="#p" x="345.5" y="434.5"/>
<use href="#p" x="326.5" y="438.5"/>
<use href="#p" x="315.5" y="389.5"/>
<use href="#p" x="302.5" y="406.5"/>
<use href="#p" x="311.5" y="380.5"/>
<use href="#p" x="314.5" y="440.5"/>
<use href="#p" x="332.5" y="434.5"/>
<use href="#p" x="322.5" y="399.5"/>
<use href="#p" x="309.5" y="384.5"/>
<use href="#p" x="304.5" y="439.5"/>
<use href="#p" x="326.5" y="420.5"/>
<use href="#p" x="301.5" y="424.5"/>
<use href="#p" x="312.5" y="390.5"/>
<use href="#p" x="314.5" y="406.5"/>
<use href="#p" x="334.5" y="430.5"/>
<use href="#p" x="312.5" y="432.5"/>
<use href="#p" x="308.5" y="406.5"/>
<use href="#p" x="318.5" y="413.5"/>
<use href="#p" x="332.5" y="413.5"/>
<use href="#p" x="339.5" y="430.5"/>
<use href="#p" x="331.5" y="416.5"/>
<use href="#p" x="318.5" y="391.5"/>
<use href="#p" x="323.5" y="427.5"/>
<use href="#p" x="300.5" y="439.5"/>
<use href="#p" x="312.5" y="422.5"/>
<use href="#p" x="326.5" y="408.5"/>
<use href="#p" x="329.5" y="414.5"/>
<use href="#p" x="340.5" y="431.5"/>
<use href="#p" x="335.5" y="439.5"/>
<use href="#p" x="350.5" y="440.5"/>
<use href="#p" x="331.5" y="426.5"/>
<use href="#p" x="333.5" y="422.5"/>
<use href="#p" x="330.5" y="418.5"/>
<use href="#p" x="316.5" y="426.5"/>
<use href="#p" x="306.5" y="385.5"/>
<use href="#p" x="314.5" y="426.5"/>
<use href="#p" x="307.5" y="439.5"/>
<use href="#p" x="315.5" y="382.5"/>
<use href="#p" x="319.5" y="405.5"/>
<use href="#p" x="322.5" y="398.5"/>
<use href="#p" x="321.5" y="385.5"/>
<use href="#p" x="316.5" y="409.5"/>
<use href="#p" x="307.5" y="387.5"/>
<use href="#p" x="331.5" y="412.5"/>
<use href="#p" x="329.5" y="425.5"/>
<use href="#p" x="303.5" y="399.5"/>
<use href="#p" x="321.5" y="417.5"/>
<use href="#p" x="330.5" y="422.5"/>
<use href="#p" x="316.5" y="416.5"/>
<use href="#p" x="301.5" y="400.5"/>
<use href="#p" x="319.5" y="404.5"/>
<use href="#p" x="333.5" y="428.5"/>
<use href="#p" x="308.5" y="419.5"/>
<use href="#p" x="330.5" y="433.5"/>
<use href="#p" x="304.5" y="428.5"/>
<use href="#p" x="324.5" y="433.5"/>
<use href="#p" x="321.5" y="387.5"/>
<use href="#p" x="312.5" y="375.5"/>
<use href="#p" x="347.5" y="435.5"/>
<use href="#p" x="309.5" y="430.5"/>
<use href="#p" x="300.5" y="419.5"/>
<use href="#p" x="324.5" y="414.5"/>
<use href="#p" x="318.5" y="387.5"/>
<use href="#p" x="312.5" y="400.5"/>
<use href="#p" x="328.5" y="431.5"/>
<use href="#p" x="308.5" y="404.5"/>
<use href="#p" x="320.5" y="434.5"/>
<use href="#p" x="326.5" y="399.5"/>
<use href="#p" x="206.5" y="356.5"/>
<use href="#p" x="257.5" y="439.5"/>
<use href="#p" x="220.5" y="382.5"/>
<use href="#p" x="216.5" y="417.5"/>
<use href="#p" x="268.5" y="433.5"/>
<use href="#p" x="207.5" y="429.5"/>
<use href="#p" x="269.5" y="384.5"/>
<use href="#p" x="256.5" y="370.5"/>
<use href="#p" x="256.5" y="370.5"/>
<use href="#p" x="206.5" y="373.5"/>
<use href="#p" x="257.5" y="419.5"/>
<use href="#p" x="265.5" y="356.5"/>
<use href="#p" x="229.5" y="356.5"/>
<use href="#p" x="279.5" y="359.5"/>
<use href="#p" x="240.5" y="362.5"/>
<use href="#p" x="277.5" y="371.5"/>
<use href="#p" x="213.5" y="364.5"/>
<use href="#p" x="280.5" y="350.5"/>
<use href="#p" x="249.5" y="421.5"/>
<use href="#p" x="267.5" y="433.5"/>
<use href="#p" x="265.5" y="360.5"/>
<use href="#p" x="271.5" y="374.5"/>
<use href="#p" x="271.5" y="403.5"/>
<use href="#p" x="255.5" y="405.5"/>
<use href="#p" x="276.5" y="410.5"/>
<use href="#p" x="223.5" y="366.5"/>
<use href="#p" x="213.5" y="375.5"/>
<use href="#p" x="228.5" y="402.5"/>
<use href="#p" x="264.5" y="370.5"/>
<use href="#p" x="267.5" y="349.5"/>
<use href="#p" x="224.5" y="421.5"/>
<use href="#p" x="224.5" y="436.5"/>
<use href="#p" x="263.5" y="416.5"/>
<use href="#p" x="270.5" y="385.5"/>
<use href="#p" x="272.5" y="350.5"/>
<use href="#p" x="280.5" y="363.5"/>
<use href="#p" x="229.5" y="379.5"/>
<use href="#p" x="271.5" y="390.5"/>
<use href="#p" x="271.5" y="377.5"/>
<use href="#p" x="236.5" y="347.5"/>
<use href="#p" x="212.5" y="395.5"/>
<use href="#p" x="266.5" y="419.5"/>
<use href="#p" x="263.5" y="386.5"/>
<use href="#p" x="273.5" y="409.5"/>
<use href="#p" x="276.5" y="357.5"/>
<use href="#p" x="274.5" y="374.5"/>
<use href="#p" x="258.5" y="401.5"/>
<use href="#p" x="271.5" y="426.5"/>
<use href="#p" x="261.5" y="381.5"/>
<use href="#p" x="253.5" y="371.5"/>
<use href="#p" x="232.5" y="364.5"/>
<use href="#p" x="276.5" y="333.5"/>
<use href="#p" x="235.5" y="373.5"/>
<use href="#p" x="276.5" y="410.5"/>
<use href="#p" x="276.5" y="346.5"/>
<use href="#p" x="259.5" y="393.5"/>
<use href="#p" x="254.5" y="413.5"/>
<use href="#p" x="214.5" y="376.5"/>
<use href="#p" x="226.5" y="361.5"/>
<use href="#p" x="268.5" y="373.5"/>
<use href="#p" x="265.5" y="413.5"/>
<use href="#p" x="251.5" y="366.5"/>
<use href="#p" x="244.5" y="390.5"/>
<use href="#p" x="253.5" y="390.5"/>
<use href="#p" x="261.5" y="365.5"/>
<use href="#p" x="248.5" y="388.5"/>
<use href="#p" x="211.5" y="355.5"/>
<use href="#p" x="216.5" y="375.5"/>
<use href="#p" x="262.5" y="389.5"/>
<use href="#p" x="251.5" y="348.5"/>
<use href="#p" x="222.5" y="383.5"/>
<use href="#p" x="217.5" y="387.5"/>
<use href="#p" x="261.5" y="387.5"/>
<use href="#p" x="256.5" y="361.5"/>
<use href="#p" x="255.5" y="368.5"/>
<use href="#p" x="224.5" y="390.5"/>
<use href="#p" x="228.5" y="389.5"/>
<use href="#p" x="218.5" y="354.5"/>
<use href="#p" x="258.5" y="374.5"/>
<use href="#p" x="236.5" y="362.5"/>
<use href="#p" x="243.5" y="348.5"/>
<use href="#p" x="251.5" y="388.5"/>
<use href="#p" x="247.5" y="378.5"/>
<use href="#p" x="258.5" y="346.5"/>
<use href="#p" x="263.5" y="391.5"/>
<use href="#p" x="262.5" y="361.5"/>
<use href="#p" x="259.5" y="389.5"/>
<use href="#p" x="209.5" y="378.5"/>
<use href="#p" x="240.5" y="371.5"/>
<use href="#p" x="257.5" y="372.5"/>
<use href="#p" x="229.5" y="357.5"/>
<use href="#p" x="261.5" y="372.5"/>
<use href="#p" x="241.5" y="388.5"/>
<use href="#p" x="256.5" y="354.5"/>
<use href="#p" x="209.5" y="374.5"/>
<use href="#p" x="335.5" y="419.5"/>
<use href="#p" x="343.5" y="434.5"/>
<use href="#p" x="349.5" y="439.5"/>
<use href="#p" x="215.5" y="67.5"/>
<use href="#p" x="235.5" y="60.5"/>
<use href="#p" x="262.5" y="61.5"/>
<use href="#p" x="281.5" y="68.5"/>
<use href="#p" x="190.5" y="317.5"/>
<use href="#p" x="342.5" y="328.5"/>
<use href="#p" x="337.5" y="368.5"/>
<use href="#p" x="333.5" y="383.5"/>
<use href="#p" x="349.5" y="408.5"/>
<use href="#p" x="269.5" y="481.5"/>
<use href="#p" x="297.5" y="477.5"/>
<use href="#p" x="306.5" y="499.5"/>
<use href="#p" x="337.5" y="492.5"/>
<use href="#p" x="341.5" y="471.5"/>
<use href="#p" x="279.5" y="457.5"/>
<use href="#p" x="294.5" y="462.5"/>
<use href="#p" x="337.5" y="465.5"/>
<use href="#p" x="352.5" y="460.5"/>
<use href="#p" x="345.5" y="457.5"/>
<use href="#p" x="378.5" y="459.5"/>
<use href="#p" x="378.5" y="462.5"/>
<use href="#p" x="314.5" y="466.5"/>
<use href="#p" x="319.5" y="467.5"/>
<use href="#p" x="378.5" y="441.5"/>
<use href="#p" x="360.5" y="437.5"/>
<use href="#p" x="366.5" y="447.5"/>
<use href="#p" x="337.5" y="367.5"/>
<use href="#p" x="323.5" y="368.5"/>
<use href="#p" x="332.5" y="382.5"/>
<use href="#p" x="334.5" y="390.5"/>
<use href="#p" x="348.5" y="405.5"/>
<use href="#p" x="329.5" y="402.5"/>
<use href="#p" x="333.5" y="392.5"/>
<use href="#p" x="329.5" y="402.5"/>
<use href="#p" x="348.5" y="407.5"/>
<use href="#p" x="346.5" y="411.5"/>
<use href="#p" x="349.5" y="416.5"/>
<use href="#p" x="381.5" y="425.5"/>
<use href="#p" x="373.5" y="446.5"/>
<use href="#p" x="355.5" y="448.5"/>
<use href="#p" x="351.5" y="444.5"/>
<use href="#p" x="207.5" y="256.5"/>
<use href="#p" x="253.5" y="255.5"/>
<use href="#p" x="263.5" y="255.5"/>
<use href="#p" x="272.5" y="254.5"/>
<use href="#p" x="274.5" y="253.5"/>
<use href="#p" x="285.5" y="255.5"/>
<use href="#p" x="286.5" y="256.5"/>
<use href="#p" x="300.5" y="255.5"/>
<use href="#p" x="304.5" y="258.5"/>
<use href="#p" x="242.5" y="260.5"/>
<use href="#p" x="257.5" y="261.5"/>
<use href="#p" x="297.5" y="261.5"/>
<use href="#p" x="300.5" y="263.5"/>
<use href="#p" x="287.5" y="263.5"/>
<use href="#p" x="283.5" y="266.5"/>
<use href="#p" x="206.5" y="271.5"/>
<use href="#p" x="235.5" y="270.5"/>
<use href="#p" x="247.5" y="272.5"/>
<use href="#p" x="255.5" y="270.5"/>
<use href="#p" x="271.5" y="270.5"/>
<use href="#p" x="289.5" y="271.5"/>
<use href="#p" x="320.5" y="274.5"/>
<use href="#p" x="308.5" y="275.5"/>
<use href="#p" x="311.5" y="279.5"/>
<use href="#p" x="256.5" y="276.5"/>
<use href="#p" x="274.5" y="276.5"/>
<use href="#p" x="268.5" y="279.5"/>
<use href="#p" x="284.5" y="276.5"/>
<use href="#p" x="285.5" y="278.5"/>
<use href="#p" x="237.5" y="280.5"/>
<use href="#p" x="250.5" y="280.5"/>
<use href="#p" x="226.5" y="283.5"/>
<use href="#p" x="234.5" y="282.5"/>
<use href="#p" x="243.5" y="283.5"/>
<use href="#p" x="251.5" y="284.5"/>
<use href="#p" x="290.5" y="283.5"/>
<use href="#p" x="292.5" y="285.5"/>
<use href="#p" x="285.5" y="287.5"/>
<use href="#p" x="209.5" y="289.5"/>
<use href="#p" x="202.5" y="290.5"/>
<use href="#p" x="237.5" y="290.5"/>
<use href="#p" x="239.5" y="290.5"/>
<use href="#p" x="257.5" y="289.5"/>
<use href="#p" x="263.5" y="291.5"/>
<use href="#p" x="270.5" y="291.5"/>
<use href="#p" x="300.5" y="289.5"/>
<use href="#p" x="284.5" y="290.5"/>
<use href="#p" x="289.5" y="291.5"/>
<use href="#p" x="203.5" y="295.5"/>
<use href="#p" x="241.5" y="297.5"/>
<use href="#p" x="251.5" y="297.5"/>
<use href="#p" x="264.5" y="294.5"/>
<use href="#p" x="277.5" y="295.5"/>
<use href="#p" x="286.5" y="295.5"/>
<use href="#p" x="294.5" y="296.5"/>
<use href="#p" x="319.5" y="297.5"/>
<use href="#p" x="203.5" y="297.5"/>
<use href="#p" x="203.5" y="308.5"/>
<use href="#p" x="202.5" y="318.5"/>
<use href="#p" x="203.5" y="322.5"/>
<use href="#p" x="224.5" y="309.5"/>
<use href="#p" x="217.5" y="323.5"/>
<use href="#p" x="216.5" y="330.5"/>
<use href="#p" x="234.5" y="318.5"/>
<use href="#p" x="242.5" y="313.5"/>
<use href="#p" x="241.5" y="322.5"/>
<use href="#p" x="235.5" y="324.5"/>
<use href="#p" x="232.5" y="327.5"/>
<use href="#p" x="230.5" y="333.5"/>
<use href="#p" x="238.5" y="332.5"/>
<use href="#p" x="229.5" y="339.5"/>
<use href="#p" x="232.5" y="340.5"/>
<use href="#p" x="249.5" y="343.5"/>
<use href="#p" x="219.5" y="345.5"/>
<use href="#p" x="241.5" y="298.5"/>
<use href="#p" x="251.5" y="298.5"/>
<use href="#p" x="249.5" y="302.5"/>
<use href="#p" x="254.5" y="307.5"/>
<use href="#p" x="261.5" y="312.5"/>
<use href="#p" x="269.5" y="312.5"/>
<use href="#p" x="259.5" y="323.5"/>
<use href="#p" x="265.5" y="322.5"/>
<use href="#p" x="265.5" y="327.5"/>
<use href="#p" x="272.5" y="325.5"/>
<use href="#p" x="265.5" y="337.5"/>
<use href="#p" x="270.5" y="339.5"/>
<use href="#p" x="279.5" y="298.5"/>
<use href="#p" x="276.5" y="303.5"/>
<use href="#p" x="286.5" y="301.5"/>
<use href="#p" x="287.5" y="303.5"/>
<use href="#p" x="290.5" y="306.5"/>
<use href="#p" x="300.5" y="303.5"/>
<use href="#p" x="302.5" y="306.5"/>
<use href="#p" x="300.5" y="299.5"/>
<use href="#p" x="277.5" y="307.5"/>
<use href="#p" x="282.5" y="315.5"/>
<use href="#p" x="284.5" y="317.5"/>
<use href="#p" x="286.5" y="313.5"/>
<use href="#p" x="293.5" y="312.5"/>
<use href="#p" x="301.5" y="313.5"/>
<use href="#p" x="289.5" y="320.5"/>
<use href="#p" x="294.5" y="322.5"/>
<use href="#p" x="300.5" y="324.5"/>
<use href="#p" x="308.5" y="323.5"/>
<use href="#p" x="303.5" y="320.5"/>
<use href="#p" x="319.5" y="298.5"/>
<use href="#p" x="325.5" y="313.5"/>
<use href="#p" x="227.5" y="404.5"/>
<use href="#p" x="220.5" y="410.5"/>
<use href="#p" x="248.5" y="409.5"/>
<use href="#p" x="240.5" y="271.5"/>
<use href="#p" x="239.5" y="318.5"/>
<use href="#p" x="202.5" y="333.5"/>
<use href="#p" x="209.5" y="338.5"/>
<use href="#p" x="231.5" y="359.5"/>
<use href="#p" x="223.5" y="368.5"/>
<use href="#p" x="225.5" y="371.5"/>
<use href="#p" x="215.5" y="374.5"/>
<use href="#p" x="218.5" y="377.5"/>
<use href="#p" x="220.5" y="381.5"/>
<use href="#p" x="216.5" y="389.5"/>
<use href="#p" x="240.5" y="417.5"/>
<use href="#p" x="228.5" y="423.5"/>
<use href="#p" x="219.5" y="432.5"/>
<use href="#p" x="228.5" y="434.5"/>
<use href="#p" x="232.5" y="434.5"/>
<use href="#p" x="236.5" y="434.5"/>
<use href="#p" x="205.5" y="437.5"/>
<use href="#p" x="212.5" y="438.5"/>
</g><g>
<use href="#x" x="240.5" y="271.5"/>
<use href="#x" x="239.5" y="318.5"/>
<use href="#x" x="202.5" y="333.5"/>
<use href="#x" x="209.5" y="338.5"/>
<use href="#x" x="231.5" y="359.5"/>
<use href="#x" x="223.5" y="368.5"/>
<use href="#x" x="225.5" y="371.5"/>
<use href="#x" x="215.5" y="374.5"/>
<use href="#x" x="218.5" y="377.5"/>
<use href="#x" x="220.5" y="381.5"/>
<use href="#x" x="216.5" y="389.5"/>
<use href="#x" x="240.5" y="417.5"/>
<use href="#x" x="228.5" y="423.5"/>
<use href="#x" x="219.5" y="432.5"/>
<use href="#x" x="228.5" y="434.5"/>
<use href="#x" x="232.5" y="434.5"/>
<use href="#x" x="236.5" y="434.5"/>
<use href="#x" x="205.5" y="437.5"/>
<use href="#x" x="212.5" y="438.5"/>
</g><g>
<use href="#o" x="207.2" y="442.0"/>
<use href="#o" x="207.3" y="441.4"/>
<use href="#o" x="216.0" y="442.2"/>
<use href="#o" x="202.7" y="443.2"/>
<use href="#o" x="231.7" y="442.6"/>
<use href="#o" x="228.9" y="442.0"/>
<use href="#o" x="220.1" y="442.7"/>
<use href="#o" x="224.5" y="442.7"/>
<use href="#o" x="211.0" y="441.8"/>
<use href="#o" x="236.9" y="442.5"/>
<use href="#o" x="232.5" y="443.2"/>
<use href="#o" x="216.6" y="442.1"/>
<use href="#o" x="222.0" y="441.3"/>
<use href="#o" x="204.4" y="442.1"/>
<use href="#o" x="225.3" y="442.2"/>
<use href="#o" x="215.6" y="442.7"/>
<use href="#o" x="203.0" y="442.1"/>
<use href="#o" x="213.9" y="441.6"/>
<use href="#o" x="218.9" y="443.2"/>
<use href="#o" x="209.4" y="442.9"/>
<use href="#o" x="204.5" y="441.7"/>
<use href="#o" x="238.4" y="441.2"/>
<use href="#o" x="228.2" y="441.9"/>
<use href="#o" x="222.2" y="442.8"/>
<use href="#o" x="218.2" y="441.3"/>
<use href="#o" x="212.4" y="442.7"/>
<use href="#o" x="229.5" y="442.3"/>
<use href="#o" x="216.6" y="443.6"/>
<use href="#o" x="230.8" y="441.6"/>
<use href="#o" x="214.2" y="441.8"/>
<use href="#o" x="228.7" y="442.0"/>
<use href="#o" x="220.6" y="443.6"/>
<use href="#o" x="236.2" y="442.1"/>
<use href="#o" x="239.6" y="442.2"/>
<use href="#o" x="224.5" y="442.5"/>
<use href="#o" x="225.9" y="442.3"/>
<use href="#o" x="225.3" y="442.9"/>
<use href="#o" x="208.5" y="442.4"/>
<use href="#o" x="214.1" y="443.1"/>
<use href="#o" x="228.9" y="441.7"/>
<use href="#o" x="206.0" y="441.3"/>
<use href="#o" x="237.6" y="441.7"/>
<use href="#o" x="204.8" y="441.2"/>
<use href="#o" x="217.2" y="443.4"/>
<use href="#o" x="209.1" y="442.4"/>
<use href="#o" x="238.9" y="442.3"/>
<use href="#o" x="228.2" y="442.6"/>
<use href="#o" x="203.8" y="442.5"/>
<use href="#o" x="215.9" y="443.1"/>
<use href="#o" x="202.9" y="442.9"/>
<use href="#o" x="235.0" y="442.3"/>
<use href="#o" x="229.8" y="442.3"/>
<use href="#o" x="230.4" y="442.9"/>
<use href="#o" x="219.6" y="443.0"/>
<use href="#o" x="214.2" y="442.1"/>
<use href="#o" x="213.8" y="442.5"/>
<use href="#o" x="222.9" y="442.3"/>
<use href="#o" x="219.3" y="442.4"/>
<use href="#o" x="237.4" y="443.4"/>
<use href="#o" x="207.2" y="441.9"/>
<use href="#o" x="221.0" y="442.6"/>
<use href="#o" x="217.0" y="442.4"/>
<use href="#o" x="239.4" y="442.0"/>
<use href="#o" x="203.7" y="441.6"/>
<use href="#o" x="235.2" y="443.5"/>
<use href="#o" x="221.0" y="442.4"/>
<use href="#o" x="214.0" y="442.1"/>
<use href="#o" x="204.3" y="442.3"/>
<use href="#o" x="218.0" y="443.2"/>
<use href="#o" x="220.2" y="442.2"/>
<use href="#o" x="202.6" y="442.5"/>
<use href="#o" x="213.0" y="443.1"/>
<use href="#o" x="225.1" y="443.0"/>
<use href="#o" x="218.0" y="442.7"/>
<use href="#o" x="236.8" y="442.8"/>
<use href="#o" x="210.3" y="442.4"/>
<use href="#o" x="216.3" y="442.8"/>
<use href="#o" x="223.2" y="442.4"/>
<use href="#o" x="229.8" y="442.2"/>
<use href="#o" x="236.7" y="443.0"/>
<use href="#o" x="218.4" y="443.3"/>
<use href="#o" x="214.5" y="442.7"/>
<use href="#o" x="215.3" y="442.8"/>
<use href="#o" x="233.6" y="442.1"/>
<use href="#o" x="228.7" y="442.5"/>
<use href="#o" x="231.0" y="441.7"/>
<use href="#o" x="210.2" y="441.2"/>
<use href="#o" x="208.5" y="442.0"/>
<use href="#o" x="237.2" y="442.4"/>
<use href="#o" x="207.2" y="441.4"/>
<use href="#o" x="227.8" y="442.0"/>
<use href="#o" x="225.3" y="443.1"/>
<use href="#o" x="206.1" y="442.1"/>
<use href="#o" x="219.1" y="442.2"/>
<use href="#o" x="225.0" y="442.0"/>
<use href="#o" x="233.2" y="442.6"/>
<use href="#o" x="236.7" y="441.8"/>
<use href="#o" x="235.3" y="442.7"/>
<use href="#o" x="214.0" y="442.0"/>
<use href="#o" x="213.7" y="442.6"/>
<use href="#o" x="220.2" y="442.4"/>
<use href="#o" x="219.1" y="442.8"/>
<use href="#o" x="222.7" y="443.2"/>
<use href="#o" x="219.1" y="441.7"/>
<use href="#o" x="231.6" y="443.2"/>
<use href="#o" x="231.8" y="443.2"/>
<use href="#o" x="214.2" y="443.3"/>
<use href="#o" x="210.0" y="442.4"/>
<use href="#o" x="202.7" y="442.4"/>
<use href="#o" x="212.4" y="443.2"/>
<use href="#o" x="208.9" y="442.7"/>
<use href="#o" x="215.1" y="443.1"/>
<use href="#o" x="203.1" y="442.1"/>
<use href="#o" x="205.1" y="442.8"/>
<use href="#o" x="230.6" y="443.0"/>
<use href="#o" x="223.2" y="442.3"/>
<use href="#o" x="223.2" y="442.0"/>
<use href="#o" x="241.1" y="442.1"/>
<use href="#o" x="221.3" y="442.2"/>
<use href="#o" x="239.7" y="442.2"/>
<use href="#o" x="221.2" y="442.5"/>
<use href="#o" x="230.6" y="441.8"/>
<use href="#o" x="205.7" y="443.1"/>
<use href="#o" x="232.3" y="442.6"/>
<use href="#o" x="215.0" y="441.5"/>
<use href="#o" x="225.2" y="442.3"/>
<use href="#o" x="215.5" y="442.2"/>
<use href="#o" x="207.1" y="441.7"/>
<use href="#o" x="237.7" y="441.6"/>
<use href="#o" x="236.3" y="442.6"/>
<use href="#o" x="202.5" y="441.6"/>
<use href="#o" x="237.1" y="442.0"/>
<use href="#o" x="224.2" y="441.3"/>
<use href="#o" x="214.3" y="442.8"/>
<use href="#o" x="214.5" y="442.1"/>
<use href="#o" x="235.0" y="442.4"/>
<use href="#o" x="205.3" y="442.8"/>
<use href="#o" x="202.1" y="442.7"/>
<use href="#o" x="223.2" y="443.0"/>
<use href="#o" x="238.8" y="441.9"/>
<use href="#o" x="230.9" y="441.9"/>
<use href="#o" x="226.1" y="441.8"/>
<use href="#o" x="214.6" y="442.2"/>
<use href="#o" x="205.6" y="442.1"/>
<use href="#o" x="202.3" y="442.7"/>
<use href="#o" x="228.2" y="442.5"/>
<use href="#o" x="213.7" y="441.2"/>
<use href="#o" x="221.5" y="442.0"/>
<use href="#o" x="220.9" y="443.6"/>
<use href="#o" x="228.4" y="441.5"/>
<use href="#o" x="226.2" y="442.3"/>
<use href="#o" x="219.8" y="442.1"/>
<use href="#o" x="225.2" y="442.7"/>
<use href="#o" x="214.1" y="442.2"/>
<use href="#o" x="222.9" y="442.6"/>
<use href="#o" x="239.7" y="442.6"/>
<use href="#o" x="223.6" y="441.6"/>
<use href="#o" x="232.7" y="442.1"/>
<use href="#o" x="202.0" y="442.5"/>
<use href="#o" x="205.8" y="443.0"/>
<use href="#o" x="213.3" y="441.8"/>
<use href="#o" x="217.1" y="441.9"/>
<use href="#o" x="216.9" y="441.4"/>
<use href="#o" x="218.1" y="442.9"/>
<use href="#o" x="232.4" y="442.1"/>
<use href="#o" x="215.8" y="441.6"/>
<use href="#o" x="211.5" y="442.5"/>
<use href="#o" x="211.5" y="442.3"/>
<use href="#o" x="227.4" y="442.4"/>
<use href="#o" x="214.7" y="443.1"/>
<use href="#o" x="218.2" y="442.4"/>
<use href="#o" x="215.9" y="441.9"/>
<use href="#o" x="207.3" y="442.1"/>
<use href="#o" x="241.1" y="443.2"/>
<use href="#o" x="207.1" y="442.6"/>
<use href="#o" x="237.7" y="442.7"/>
<use href="#o" x="238.8" y="443.6"/>
<use href="#o" x="203.7" y="442.7"/>
<use href="#o" x="222.8" y="443.3"/>
<use href="#o" x="229.8" y="443.6"/>
<use href="#o" x="215.2" y="441.9"/>
<use href="#o" x="219.4" y="443.2"/>
<use href="#o" x="237.5" y="441.4"/>
<use href="#o" x="222.4" y="442.2"/>
<use href="#o" x="224.2" y="442.3"/>
<use href="#o" x="220.5" y="442.8"/>
<use href="#o" x="209.3" y="442.3"/>
<use href="#o" x="211.7" y="442.7"/>
<use href="#o" x="232.5" y="442.2"/>
<use href="#o" x="208.5" y="441.2"/>
<use href="#o" x="223.8" y="443.0"/>
<use href="#o" x="239.6" y="442.8"/>
<use href="#o" x="201.8" y="441.3"/>
<use href="#o" x="214.9" y="442.4"/>
<use href="#o" x="234.5" y="442.9"/>
<use href="#o" x="219.0" y="442.4"/>
<use href="#o" x="234.1" y="442.3"/>
<use href="#o" x="208.8" y="443.0"/>
<use href="#o" x="233.4" y="442.0"/>
<use href="#o" x="226.0" y="441.2"/>
</g>
<path d="M100.0 442.5H381.8" stroke="#0000ff" stroke-width="1.39" stroke-dasharray="8.33 8.33" fill="none"/>
<path d="M100.0 442.4H381.8" stroke="#ff0000" stroke-width="1.39" stroke-dasharray="8.33 8.33" fill="none"/>
<path d="M100.0 440.6H381.8" stroke="#0000ff" stroke-width="1.39" stroke-dasharray="4.17 6.94 1.39 6.94" fill="none"/>
<path d="M100.0 444.4H381.8" stroke="#0000ff" stroke-width="1.39" stroke-dasharray="4.17 6.94 1.39 6.94" fill="none"/>
</g>
<rect x="100.3" y="60.5" width="281.8" height="480.0" fill="none" stroke="#000" stroke-width="1.39"/>
<path d="M100.3 540.5v-5.56M137.9 540.5v-5.56M175.4 540.5v-5.56M213.0 540.5v-5.56M250.6 540.5v-5.56M288.2 540.5v-5.56M325.7 540.5v-5.56M363.3 540.5v-5.56" stroke="#000" stroke-width="0.8" fill="none"/>
<path d="M137.3 60.5v5.56M174.9 60.5v5.56M212.5 60.5v5.56M250.0 60.5v5.56M287.6 60.5v5.56M325.2 60.5v5.56M362.7 60.5v5.56" stroke="#000" stroke-width="0.8" fill="none"/>
<path d="M100.3 540.5h5.56M382.1 540.5h-5.56M100.3 420.5h5.56M382.1 420.5h-5.56M100.3 300.5h5.56M382.1 300.5h-5.56M100.3 180.5h5.56M382.1 180.5h-5.56M100.3 60.5h5.56M382.1 60.5h-5.56" stroke="#000" stroke-width="0.8" fill="none"/>
<text transform="translate(100.7 559.6) scale(1 1.075)" font-size="16.67" text-anchor="middle" letter-spacing="-0.25">−20</text>
<text transform="translate(138.3 559.6) scale(1 1.075)" font-size="16.67" text-anchor="middle" letter-spacing="-0.25">−18</text>
<text transform="translate(175.8 559.6) scale(1 1.075)" font-size="16.67" text-anchor="middle" letter-spacing="-0.25">−16</text>
<text transform="translate(213.4 559.6) scale(1 1.075)" font-size="16.67" text-anchor="middle" letter-spacing="-0.25">−14</text>
<text transform="translate(251.0 559.6) scale(1 1.075)" font-size="16.67" text-anchor="middle" letter-spacing="-0.25">−12</text>
<text transform="translate(288.6 559.6) scale(1 1.075)" font-size="16.67" text-anchor="middle" letter-spacing="-0.25">−10</text>
<text transform="translate(326.1 559.6) scale(1 1.075)" font-size="16.67" text-anchor="middle" letter-spacing="-0.25">−8</text>
<text transform="translate(363.7 559.6) scale(1 1.075)" font-size="16.67" text-anchor="middle" letter-spacing="-0.25">−6</text>
<text transform="translate(137.0 50.4) scale(1 1.075)" font-size="16.67" text-anchor="middle" >14</text>
<text transform="translate(174.6 50.4) scale(1 1.075)" font-size="16.67" text-anchor="middle" >16</text>
<text transform="translate(212.2 50.4) scale(1 1.075)" font-size="16.67" text-anchor="middle" >18</text>
<text transform="translate(249.7 50.4) scale(1 1.075)" font-size="16.67" text-anchor="middle" >20</text>
<text transform="translate(287.3 50.4) scale(1 1.075)" font-size="16.67" text-anchor="middle" >22</text>
<text transform="translate(324.9 50.4) scale(1 1.075)" font-size="16.67" text-anchor="middle" >24</text>
<text transform="translate(362.4 50.4) scale(1 1.075)" font-size="16.67" text-anchor="middle" >26</text>
<text transform="translate(95.4 545.6) scale(1 1.075)" font-size="16.67" text-anchor="end" letter-spacing="-0.4">0</text>
<text transform="translate(95.4 425.6) scale(1 1.075)" font-size="16.67" text-anchor="end" letter-spacing="-0.4">5</text>
<text transform="translate(95.4 305.6) scale(1 1.075)" font-size="16.67" text-anchor="end" letter-spacing="-0.4">10</text>
<text transform="translate(95.4 185.6) scale(1 1.075)" font-size="16.67" text-anchor="end" letter-spacing="-0.4">15</text>
<text transform="translate(95.4 65.6) scale(1 1.075)" font-size="16.67" text-anchor="end" letter-spacing="-0.4">20</text>
<text x="226.7" y="28.7" font-size="20" text-anchor="middle" >FWHM vs magnitudes</text>
<text transform="translate(241.9 583.5) scale(1 1.075)" font-size="16.67" text-anchor="middle" >magnitude (bottom:isnt / top:calib)</text>
<text transform="translate(63.4 300) rotate(-90) scale(1 1.075)" font-size="16.67" text-anchor="middle">FWHM (pix)</text>
<rect x="27.5" y="70.7" width="345.0" height="179.60000000000002" fill="#fff" stroke="#000" stroke-width="1.39"/>
<use href="#p" x="41.25" y="86.5"/><use href="#p" x="69.25" y="86.5"/>
<use href="#xl" x="41.25" y="115.5"/><use href="#xl" x="69.25" y="115.5"/>
<use href="#o" x="41.25" y="144.5"/><use href="#o" x="69.25" y="144.5"/>
<path d="M41.25 173.5H69.25" stroke="#0000ff" stroke-width="1.39" stroke-dasharray="8.33 8.33" fill="none"/>
<path d="M41.25 202.5H69.25" stroke="#ff0000" stroke-width="1.39" stroke-dasharray="8.33 8.33" fill="none"/>
<path d="M41.25 231.5H69.25" stroke="#0000ff" stroke-width="1.39" stroke-dasharray="4.17 6.94 1.39 6.94" fill="none"/>
<text x="91.0" y="92.7" font-size="20" text-anchor="start" >all sample</text>
<text x="91.0" y="121.7" font-size="20" text-anchor="start" >sample for rough FWHM</text>
<text x="91.0" y="150.7" font-size="20" text-anchor="start" >best-effort PSF-like sample</text>
<text x="91.0" y="179.7" font-size="20" text-anchor="start" >resultant FWHM: 4.05</text>
<text x="91.0" y="208.7" font-size="20" text-anchor="start" >median FHWM of sequence</text>
<text x="91.0" y="237.7" font-size="20" text-anchor="start" >sigma range</text>
<g clip-path="url(#c2)">
<rect x="438.5" y="398.0" width="0.23" height="57.0" fill="#0000ff" stroke="#000" stroke-width="1.39"/>
<rect x="438.5" y="341.0" width="2.07" height="57.0" fill="#0000ff" stroke="#000" stroke-width="1.39"/>
<rect x="438.5" y="284.5" width="222.62" height="56.5" fill="#0000ff" stroke="#000" stroke-width="1.39"/>
<rect x="438.5" y="227.5" width="18.32" height="57.0" fill="#0000ff" stroke="#000" stroke-width="1.39"/>
<rect x="438.5" y="170.0" width="0.94" height="57.5" fill="#0000ff" stroke="#000" stroke-width="1.39"/>
<path d="M438.2 314.0H697.5" stroke="#000" stroke-width="1.39" stroke-dasharray="8.33 8.33" fill="none"/>
</g>
<rect x="438.5" y="60.5" width="281.8" height="480.0" fill="none" stroke="#000" stroke-width="1.39"/>
<path d="M438.5 540.5v-5.56M438.5 60.5v5.56M485.5 540.5v-5.56M485.5 60.5v5.56M532.4 540.5v-5.56M532.4 60.5v5.56M579.4 540.5v-5.56M579.4 60.5v5.56M626.4 540.5v-5.56M626.4 60.5v5.56M673.3 540.5v-5.56M673.3 60.5v5.56M720.3 540.5v-5.56M720.3 60.5v5.56" stroke="#000" stroke-width="0.8" fill="none"/>
<path d="M438.5 540.5h5.56M720.3 540.5h-5.56M438.5 487.2h5.56M720.3 487.2h-5.56M438.5 433.8h5.56M720.3 433.8h-5.56M438.5 380.5h5.56M720.3 380.5h-5.56M438.5 327.2h5.56M720.3 327.2h-5.56M438.5 273.8h5.56M720.3 273.8h-5.56M438.5 220.5h5.56M720.3 220.5h-5.56M438.5 167.2h5.56M720.3 167.2h-5.56M438.5 113.8h5.56M720.3 113.8h-5.56M438.5 60.5h5.56M720.3 60.5h-5.56" stroke="#000" stroke-width="0.8" fill="none"/>
<text transform="translate(437.9 559.6) scale(1 1.075)" font-size="16.67" text-anchor="middle" letter-spacing="-0.25">0</text>
<text transform="translate(484.9 559.6) scale(1 1.075)" font-size="16.67" text-anchor="middle" letter-spacing="-0.25">50</text>
<text transform="translate(531.8 559.6) scale(1 1.075)" font-size="16.67" text-anchor="middle" letter-spacing="-0.25">100</text>
<text transform="translate(578.8 559.6) scale(1 1.075)" font-size="16.67" text-anchor="middle" letter-spacing="-0.25">150</text>
<text transform="translate(625.8 559.6) scale(1 1.075)" font-size="16.67" text-anchor="middle" letter-spacing="-0.25">200</text>
<text transform="translate(672.7 559.6) scale(1 1.075)" font-size="16.67" text-anchor="middle" letter-spacing="-0.25">250</text>
<text transform="translate(719.7 559.6) scale(1 1.075)" font-size="16.67" text-anchor="middle" letter-spacing="-0.25">300</text>
<text transform="translate(433.0 545.6) scale(1 1.075)" font-size="16.67" text-anchor="end" letter-spacing="-0.4">3.2</text>
<text transform="translate(433.0 492.3) scale(1 1.075)" font-size="16.67" text-anchor="end" letter-spacing="-0.4">3.4</text>
<text transform="translate(433.0 438.9) scale(1 1.075)" font-size="16.67" text-anchor="end" letter-spacing="-0.4">3.6</text>
<text transform="translate(433.0 385.6) scale(1 1.075)" font-size="16.67" text-anchor="end" letter-spacing="-0.4">3.8</text>
<text transform="translate(433.0 332.3) scale(1 1.075)" font-size="16.67" text-anchor="end" letter-spacing="-0.4">4.0</text>
<text transform="translate(433.0 278.9) scale(1 1.075)" font-size="16.67" text-anchor="end" letter-spacing="-0.4">4.2</text>
<text transform="translate(433.0 225.6) scale(1 1.075)" font-size="16.67" text-anchor="end" letter-spacing="-0.4">4.4</text>
<text transform="translate(433.0 172.3) scale(1 1.075)" font-size="16.67" text-anchor="end" letter-spacing="-0.4">4.6</text>
<text transform="translate(433.0 118.9) scale(1 1.075)" font-size="16.67" text-anchor="end" letter-spacing="-0.4">4.8</text>
<text transform="translate(433.0 65.6) scale(1 1.075)" font-size="16.67" text-anchor="end" letter-spacing="-0.4">5.0</text>
<text x="579.6" y="52.6" font-size="20" text-anchor="middle" >histogram of FWHM</text>
<text transform="translate(579.4 583.5) scale(1 1.075)" font-size="16.67" text-anchor="middle" >number of sources</text>
<text transform="translate(396.2 300) rotate(-90) scale(1 1.075)" font-size="16.67" text-anchor="middle">FWHM of best-effort PSF-like sources</text>
</svg>
</body></html>
